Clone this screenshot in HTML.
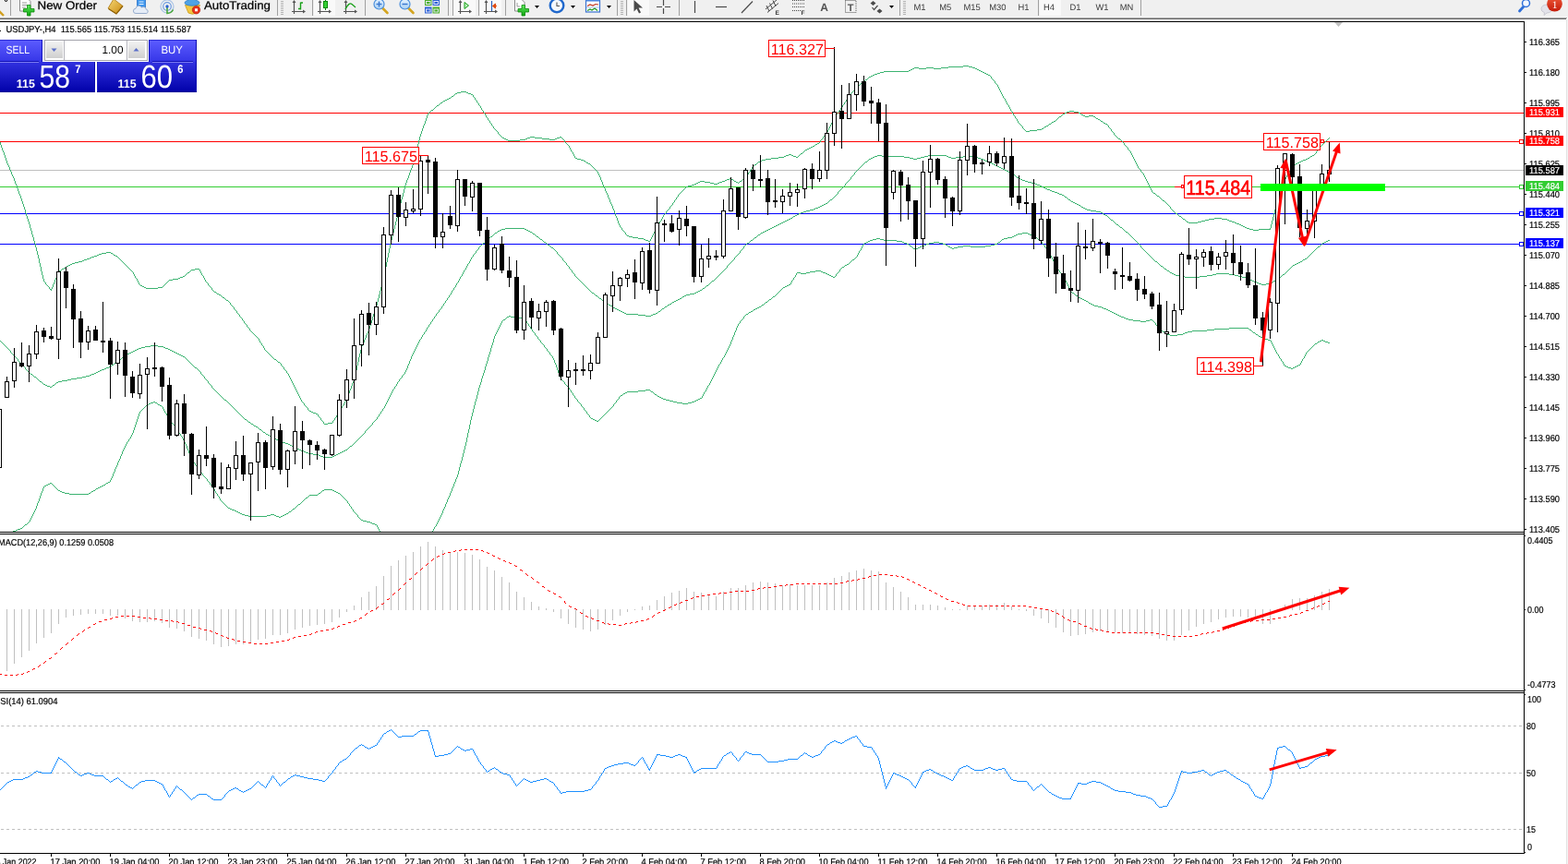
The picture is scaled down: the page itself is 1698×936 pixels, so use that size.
<!DOCTYPE html>
<html lang="en">
<head>
<meta charset="utf-8">
<title>USDJPY-,H4</title>
<style>
html,body{margin:0;padding:0;background:#fff}
body{width:1698px;height:936px;overflow:hidden;font-family:"Liberation Sans",sans-serif}
svg{display:block}
text{white-space:pre;text-rendering:geometricPrecision}
</style>
</head>
<body>
<svg width="1698" height="936" viewBox="0 0 1698 936">
<rect width="1698" height="936" fill="#fff"/>
<g id="toolbar" font-family='"Liberation Sans", sans-serif'>
<defs><linearGradient id="gPlus" x1="0" y1="0" x2="0" y2="1"><stop offset="0" stop-color="#5fe85f"/><stop offset="1" stop-color="#0ea40e"/></linearGradient><linearGradient id="gBadge" x1="0" y1="0" x2="0" y2="1"><stop offset="0" stop-color="#ef5a3a"/><stop offset="1" stop-color="#c41c0a"/></linearGradient><linearGradient id="gBook" x1="0" y1="0" x2="1" y2="1"><stop offset="0" stop-color="#f6d878"/><stop offset="1" stop-color="#c98a10"/></linearGradient><linearGradient id="gLens" x1="0" y1="0" x2="0" y2="1"><stop offset="0" stop-color="#e8f4ff"/><stop offset="1" stop-color="#a8d0f4"/></linearGradient></defs>
<rect x="0" y="0" width="1698" height="19" fill="#f0f0f0"/>
<g shape-rendering="crispEdges">
<rect x="0" y="18" width="1698" height="1" fill="#f7f7f7"/>
<rect x="0" y="19" width="1697" height="1" fill="#a6a6a6"/>
<rect x="0" y="20" width="1696" height="1" fill="#6a6a6a"/>
<rect x="340" y="0" width="23" height="17" fill="#f9f9f9"/>
<rect x="491" y="0" width="24" height="17" fill="#f9f9f9"/>
<rect x="520" y="0" width="23" height="17" fill="#f9f9f9"/>
<rect x="680" y="0" width="23" height="17" fill="#f9f9f9"/>
<rect x="1126" y="0" width="23" height="17" fill="#f9f9f9"/>
<rect x="11" y="0" width="1" height="17" fill="#a0a0a0"/>
<rect x="300" y="0" width="1" height="17" fill="#a0a0a0"/>
<rect x="338" y="0" width="1" height="17" fill="#a0a0a0"/>
<rect x="395" y="0" width="1" height="17" fill="#a0a0a0"/>
<rect x="485" y="0" width="1" height="17" fill="#a0a0a0"/>
<rect x="490" y="0" width="1" height="17" fill="#a0a0a0"/>
<rect x="518" y="0" width="1" height="17" fill="#a0a0a0"/>
<rect x="547" y="0" width="1" height="17" fill="#a0a0a0"/>
<rect x="668" y="0" width="1" height="17" fill="#a0a0a0"/>
<rect x="678" y="0" width="1" height="17" fill="#a0a0a0"/>
<rect x="735" y="0" width="1" height="17" fill="#a0a0a0"/>
<rect x="974" y="0" width="1" height="17" fill="#a0a0a0"/>
<rect x="1124" y="0" width="1" height="17" fill="#a0a0a0"/>
<rect x="1235" y="0" width="1" height="17" fill="#a0a0a0"/>
<rect x="304" y="1" width="3" height="1" fill="#b4b4b4"/>
<rect x="304" y="3" width="3" height="1" fill="#b4b4b4"/>
<rect x="304" y="5" width="3" height="1" fill="#b4b4b4"/>
<rect x="304" y="7" width="3" height="1" fill="#b4b4b4"/>
<rect x="304" y="9" width="3" height="1" fill="#b4b4b4"/>
<rect x="304" y="11" width="3" height="1" fill="#b4b4b4"/>
<rect x="304" y="13" width="3" height="1" fill="#b4b4b4"/>
<rect x="304" y="15" width="3" height="1" fill="#b4b4b4"/>
<rect x="672" y="1" width="3" height="1" fill="#b4b4b4"/>
<rect x="672" y="3" width="3" height="1" fill="#b4b4b4"/>
<rect x="672" y="5" width="3" height="1" fill="#b4b4b4"/>
<rect x="672" y="7" width="3" height="1" fill="#b4b4b4"/>
<rect x="672" y="9" width="3" height="1" fill="#b4b4b4"/>
<rect x="672" y="11" width="3" height="1" fill="#b4b4b4"/>
<rect x="672" y="13" width="3" height="1" fill="#b4b4b4"/>
<rect x="672" y="15" width="3" height="1" fill="#b4b4b4"/>
<rect x="978" y="1" width="3" height="1" fill="#b4b4b4"/>
<rect x="978" y="3" width="3" height="1" fill="#b4b4b4"/>
<rect x="978" y="5" width="3" height="1" fill="#b4b4b4"/>
<rect x="978" y="7" width="3" height="1" fill="#b4b4b4"/>
<rect x="978" y="9" width="3" height="1" fill="#b4b4b4"/>
<rect x="978" y="11" width="3" height="1" fill="#b4b4b4"/>
<rect x="978" y="13" width="3" height="1" fill="#b4b4b4"/>
<rect x="978" y="15" width="3" height="1" fill="#b4b4b4"/>
</g>
<path d="M-1 12L4 17" stroke="#d1a021" stroke-width="2.4" fill="none"/>
<path d="M5 0l1.5 2l1.5-2" stroke="#000" stroke-width="1" fill="none"/>
<path d="M21.5 -2h8l3.5 3.5v10.5h-11.5z" fill="#fdfdfd" stroke="#8a8a8a" stroke-width="1"/>
<path d="M24 3h5M24 5.5h6M24 8h4" stroke="#9a9a9a" stroke-width="1"/>
<path d="M29.5 5.5h3.5v4h4v3.5h-4v4h-3.5v-4h-4v-3.5h4z" fill="url(#gPlus)" stroke="#0b8a0b" stroke-width="0.8"/>
<text x="40.5" y="9.8" font-size="12.5" fill="#000" stroke="#000" stroke-width="0.25" textLength="64.5" lengthAdjust="spacingAndGlyphs">New Order</text>
<path d="M123 -1l10 7.5l-7 8.5l-9-6z" fill="url(#gBook)" stroke="#b07a12" stroke-width="0.8"/>
<path d="M117.5 9.5l8.5 5.5l7-8.5" fill="none" stroke="#8f6208" stroke-width="1.2"/>
<rect x="148.5" y="-1" width="9" height="9" fill="#3f97ee" stroke="#2a70c8" stroke-width="0.8"/>
<path d="M150.5 2h5M150.5 4.5h5" stroke="#e8f3ff" stroke-width="1"/>
<path d="M147 14.5a2.6 2.6 0 0 1 0-5.2a3.4 3.4 0 0 1 6.4-1.2a3 3 0 0 1 4.8 2a2.3 2.3 0 0 1 0.6 4.4z" fill="#e6edf7" stroke="#8ea6c8" stroke-width="0.9"/>
<circle cx="181" cy="7" r="7" fill="none" stroke="#a9c3e6" stroke-width="1.2"/>
<circle cx="181" cy="7" r="4.3" fill="none" stroke="#6d9be0" stroke-width="1.2"/>
<path d="M181 7v7.5a7.5 7.5 0 0 0 6.5-4" fill="none" stroke="#4aa83a" stroke-width="1.6"/>
<circle cx="181" cy="7" r="1.7" fill="#2a62d0"/>
<path d="M200.5 5.5h16l-3.5 8.5q-4.5 2.5-9 0z" fill="#f3c842" stroke="#c99a18" stroke-width="0.8"/>
<ellipse cx="208" cy="3" rx="8" ry="3.2" fill="#4fa3e6" stroke="#2d7cc4" stroke-width="0.8"/>
<path d="M205 -2h6l1 4h-8z" fill="#4fa3e6"/>
<circle cx="212.5" cy="10.8" r="4.2" fill="#e8341c" stroke="#b8200c" stroke-width="0.7"/>
<rect x="211" y="9.3" width="3" height="3" fill="#fff"/>
<text x="221" y="9.8" font-size="12.5" fill="#000" stroke="#000" stroke-width="0.25" textLength="72" lengthAdjust="spacingAndGlyphs">AutoTrading</text>
<path d="M318.5 1v14M316 12.5h14" stroke="#555" stroke-width="1.2" fill="none"/><path d="M318.5 0l-2 3h4zM331 12.5l-3-2v4z" fill="#555"/>
<path d="M325.5 2.5v8M325.5 3h2.5M323 9.5h2.5" stroke="#18a018" stroke-width="1.4" fill="none"/>
<path d="M346.5 1v14M344 12.5h14" stroke="#555" stroke-width="1.2" fill="none"/><path d="M346.5 0l-2 3h4zM359 12.5l-3-2v4z" fill="#555"/>
<path d="M352.5 0v11" stroke="#0b8a0b" stroke-width="1"/>
<rect x="350.5" y="1.5" width="4" height="7" fill="#35d035" stroke="#0b8a0b" stroke-width="1"/>
<path d="M374.5 1v14M372 12.5h14" stroke="#555" stroke-width="1.2" fill="none"/><path d="M374.5 0l-2 3h4zM387 12.5l-3-2v4z" fill="#555"/>
<path d="M374 10q4-8 7-5.5t4 3.5" stroke="#18a018" stroke-width="1.3" fill="none"/>
<path d="M414 8.5l5.5 5.5" stroke="#d4a521" stroke-width="2.6" stroke-linecap="round"/>
<circle cx="410.5" cy="4.5" r="5.5" fill="url(#gLens)" stroke="#4b8fdc" stroke-width="1.2"/>
<path d="M407.5 4.5h6" stroke="#3a78d0" stroke-width="1.5"/>
<path d="M410.5 1.5v6" stroke="#3a78d0" stroke-width="1.5"/>
<path d="M442 8.5l5.5 5.5" stroke="#d4a521" stroke-width="2.6" stroke-linecap="round"/>
<circle cx="438.5" cy="4.5" r="5.5" fill="url(#gLens)" stroke="#4b8fdc" stroke-width="1.2"/>
<path d="M435.5 4.5h6" stroke="#3a78d0" stroke-width="1.5"/>
<rect x="460" y="-1" width="7.5" height="7" fill="#4caf2a"/>
<rect x="461.5" y="1.5" width="4.5" height="3" fill="none" stroke="#eef" stroke-width="0.9"/>
<rect x="468.5" y="-1" width="7.5" height="7" fill="#2f63d4"/>
<rect x="470" y="1.5" width="4.5" height="3" fill="none" stroke="#eef" stroke-width="0.9"/>
<rect x="460" y="7.5" width="7.5" height="7" fill="#2f63d4"/>
<rect x="461.5" y="10" width="4.5" height="3" fill="none" stroke="#eef" stroke-width="0.9"/>
<rect x="468.5" y="7.5" width="7.5" height="7" fill="#4caf2a"/>
<rect x="470" y="10" width="4.5" height="3" fill="none" stroke="#eef" stroke-width="0.9"/>
<path d="M498.5 1v14M496 12.5h14" stroke="#555" stroke-width="1.2" fill="none"/><path d="M498.5 0l-2 3h4zM511 12.5l-3-2v4z" fill="#555"/>
<path d="M503 2.5l4.5 3.5l-4.5 3.5z" fill="#b8f0b8" stroke="#18a018" stroke-width="1"/>
<path d="M526.5 1v14M524 12.5h14" stroke="#555" stroke-width="1.2" fill="none"/><path d="M526.5 0l-2 3h4zM539 12.5l-3-2v4z" fill="#555"/>
<path d="M532.5 1v11" stroke="#2a5fb8" stroke-width="1.2"/>
<path d="M533.5 6.5h4.5M533.5 6.5l3-2.5v5z" stroke="#e04a10" stroke-width="1" fill="#e04a10"/>
<path d="M557.5 -1h7l3.5 3.5v9.5h-10.5z" fill="#fdfdfd" stroke="#8a8a8a" stroke-width="1"/>
<path d="M560 3v4h3" stroke="#9a9a9a" stroke-width="1" fill="none"/>
<path d="M565 5.5h3.5v4h4v3.5h-4v4h-3.5v-4h-4v-3.5h4z" fill="url(#gPlus)" stroke="#0b8a0b" stroke-width="0.8"/>
<path d="M579 6h5l-2.5 3z" fill="#000"/>
<path d="M618 6h5l-2.5 3z" fill="#000"/>
<path d="M657 6h5l-2.5 3z" fill="#000"/>
<path d="M963 6h5l-2.5 3z" fill="#000"/>
<circle cx="603" cy="6" r="7.3" fill="#f4f8fd" stroke="#2068cc" stroke-width="2.4"/>
<path d="M603 2.5v4h3" stroke="#555" stroke-width="1.1" fill="none"/>
<rect x="634.5" y="-1" width="15" height="14" fill="#fdfdff" stroke="#3a72d0" stroke-width="1.2"/>
<rect x="634.5" y="-1" width="15" height="2.5" fill="#4a86e0"/>
<path d="M636 6.5l3-1.5l3 1l3-1.5l3 0.5" stroke="#c0341c" stroke-width="1.2" fill="none"/>
<path d="M636 11.5l3-1.5l2 1l3-2l3 2.5" stroke="#1e9a1e" stroke-width="1.2" fill="none"/>
<path d="M635 8h14" stroke="#9ab4e0" stroke-width="0.8"/>
<path d="M686.5 0v12.5l3-3l2.5 5l2-1l-2.5-5h4.5z" fill="#4a4a4a"/>
<path d="M718.5 0v6M718.5 9v6M711 7.5h6M720 7.5h6" stroke="#4a4a4a" stroke-width="1.2"/>
<path d="M752.5 1v13" stroke="#4a4a4a" stroke-width="1.2"/>
<path d="M775 7.5h12" stroke="#4a4a4a" stroke-width="1.2"/>
<path d="M803 14l12-12.5" stroke="#4a4a4a" stroke-width="1.2"/>
<path d="M829 10l12-10M831 13.5l12-10M830 6l3 6M833.5 3.5l3 6M837 0.5l3 6" stroke="#4a4a4a" stroke-width="1" fill="none"/>
<text x="839.5" y="16" font-size="6.5" font-weight="bold" fill="#333">E</text>
<path d="M858 0.5h13M858 4h13M858 7.5h13M858 11.5h9" stroke="#4a4a4a" stroke-width="1" stroke-dasharray="1 1"/>
<text x="867.5" y="16" font-size="6.5" font-weight="bold" fill="#333">F</text>
<text x="892.7" y="12" font-size="12" font-weight="bold" fill="#555" text-anchor="middle">A</text>
<rect x="915.5" y="0.5" width="11.5" height="13" fill="none" stroke="#555" stroke-width="1" stroke-dasharray="1 1"/>
<text x="921.2" y="11.5" font-size="11" font-weight="bold" fill="#555" text-anchor="middle">T</text>
<path d="M945.5 1l3 2.5l-3 2.5l-3-2.5zM952.5 9.5l3 2.5l-3 2.5l-3-2.5z" fill="#4a4a4a"/>
<path d="M944.5 8l2 2.5l4-4.5" stroke="#4a4a4a" stroke-width="1.2" fill="none"/>
<text x="996" y="11" font-size="9.4" fill="#3a3a3a" text-anchor="middle">M1</text>
<text x="1023.7" y="11" font-size="9.4" fill="#3a3a3a" text-anchor="middle">M5</text>
<text x="1052.5" y="11" font-size="9.4" fill="#3a3a3a" text-anchor="middle">M15</text>
<text x="1080.4" y="11" font-size="9.4" fill="#3a3a3a" text-anchor="middle">M30</text>
<text x="1108.5" y="11" font-size="9.4" fill="#3a3a3a" text-anchor="middle">H1</text>
<text x="1136" y="11" font-size="9.4" fill="#3a3a3a" text-anchor="middle">H4</text>
<text x="1164.6" y="11" font-size="9.4" fill="#3a3a3a" text-anchor="middle">D1</text>
<text x="1193.5" y="11" font-size="9.4" fill="#3a3a3a" text-anchor="middle">W1</text>
<text x="1220" y="11" font-size="9.4" fill="#3a3a3a" text-anchor="middle">MN</text>
<path d="M1650 7l-4.5 5" stroke="#2f6fd8" stroke-width="2.8" stroke-linecap="round"/>
<circle cx="1652.5" cy="3.5" r="4" fill="#f4f8ff" stroke="#2f6fd8" stroke-width="1.5"/>
<path d="M1669 9.5a6 4.5 0 1 1 6 4.5l-3 2.5l0.5-2.8a6 4.5 0 0 1-3.5-4.2z" fill="#e3e3ea" stroke="#c2c2cc" stroke-width="0.8"/>
<circle cx="1683.5" cy="4.3" r="8.3" fill="url(#gBadge)"/>
<text x="1683.5" y="8.5" font-size="11.5" fill="#fff" text-anchor="middle" font-family='"Liberation Serif", serif'>1</text>
</g>
<g shape-rendering="crispEdges">
<rect x="0" y="23" width="1651" height="1" fill="#000"/>
<rect x="1650" y="23" width="1" height="902" fill="#000"/>
<rect x="0" y="576" width="1651" height="1" fill="#000"/>
<rect x="0" y="578" width="1651" height="1" fill="#000"/>
<rect x="0" y="748" width="1651" height="1" fill="#000"/>
<rect x="0" y="750" width="1651" height="1" fill="#000"/>
<rect x="0" y="924" width="1651" height="1" fill="#000"/>
<rect x="1696" y="21" width="1" height="915" fill="#e3e3e3"/>
<rect x="1697" y="21" width="1" height="915" fill="#f4f4f4"/>
<rect x="0" y="122" width="1650" height="1" fill="#ff0000"/>
<rect x="0" y="153" width="1650" height="1" fill="#ff0000"/>
<rect x="0" y="184" width="1650" height="1" fill="#c0c0c0"/>
<rect x="0" y="202" width="1650" height="1" fill="#32cd32"/>
<rect x="0" y="231" width="1650" height="1" fill="#0000ff"/>
<rect x="0" y="264" width="1650" height="1" fill="#0000ff"/>
</g>
<path d="M1445 24h9l-4.5 5z" fill="#c0c0c0"/>
<clipPath id="cm"><rect x="0" y="24" width="1650" height="552"/></clipPath>
<path shape-rendering="crispEdges" fill="#3cb371" d="M1043 71h6v1h-6zM1027 72h16v1h-16zM1049 72h4v1h-4zM990 73h5v1h-5zM1003 73h8v1h-8zM1019 73h8v1h-8zM1053 73h3v1h-3zM988 74h2v1h-2zM995 74h8v1h-8zM1011 74h8v1h-8zM1056 74h2v1h-2zM986 75h2v1h-2zM1058 75h2v1h-2zM984 76h2v1h-2zM1060 76h2v1h-2zM957 77h27v1h-27zM1062 77h2v1h-2zM953 78h4v1h-4zM1064 78h2v1h-2zM950 79h3v1h-3zM1066 79h2v1h-2zM947 80h3v1h-3zM1068 80h2v1h-2zM945 81h2v1h-2zM1070 81h2v1h-2zM943 82h2v1h-2zM1072 82h1v1h-1zM941 83h2v1h-2zM1073 83h1v2h-1zM940 84h1v1h-1zM939 85h1v1h-1zM1074 85h1v1h-1zM937 86h2v1h-2zM1075 86h1v1h-1zM936 87h1v1h-1zM1076 87h1v1h-1zM935 88h1v1h-1zM1077 88h1v2h-1zM933 89h2v1h-2zM932 90h1v1h-1zM1078 90h1v1h-1zM931 91h1v1h-1zM1079 91h1v1h-1zM929 92h2v1h-2zM1080 92h1v2h-1zM928 93h1v1h-1zM927 94h1v1h-1zM1081 94h1v2h-1zM926 95h1v1h-1zM925 96h1v2h-1zM1082 96h1v2h-1zM924 98h1v1h-1zM1083 98h1v2h-1zM499 99h6v1h-6zM923 99h1v1h-1zM495 100h4v1h-4zM505 100h2v1h-2zM922 100h1v1h-1zM1084 100h1v2h-1zM493 101h2v1h-2zM507 101h3v1h-3zM921 101h1v2h-1zM492 102h1v1h-1zM510 102h2v1h-2zM1085 102h1v2h-1zM491 103h1v1h-1zM512 103h1v2h-1zM920 103h1v1h-1zM489 104h2v1h-2zM919 104h1v1h-1zM1086 104h1v2h-1zM488 105h1v1h-1zM513 105h1v1h-1zM918 105h1v2h-1zM486 106h2v1h-2zM514 106h1v2h-1zM1087 106h1v1h-1zM484 107h2v1h-2zM917 107h1v1h-1zM1088 107h1v2h-1zM482 108h2v1h-2zM515 108h1v1h-1zM916 108h1v2h-1zM480 109h2v1h-2zM516 109h1v2h-1zM1089 109h1v2h-1zM479 110h1v1h-1zM915 110h1v1h-1zM477 111h2v1h-2zM517 111h1v1h-1zM914 111h1v2h-1zM1090 111h1v2h-1zM476 112h1v1h-1zM518 112h1v2h-1zM475 113h1v1h-1zM913 113h1v1h-1zM1091 113h1v1h-1zM473 114h2v1h-2zM519 114h1v1h-1zM912 114h1v2h-1zM1092 114h1v2h-1zM472 115h1v1h-1zM520 115h1v2h-1zM471 116h1v1h-1zM911 116h1v1h-1zM1093 116h1v2h-1zM470 117h1v1h-1zM521 117h1v2h-1zM910 117h1v2h-1zM469 118h1v1h-1zM1094 118h1v2h-1zM467 119h2v1h-2zM522 119h1v1h-1zM909 119h1v1h-1zM466 120h1v1h-1zM523 120h1v2h-1zM908 120h1v1h-1zM1095 120h1v1h-1zM1158 120h5v1h-5zM465 121h1v1h-1zM907 121h1v2h-1zM1096 121h1v2h-1zM1155 121h3v1h-3zM1163 121h5v1h-5zM464 122h1v1h-1zM524 122h1v1h-1zM1153 122h2v1h-2zM1168 122h2v1h-2zM463 123h1v2h-1zM525 123h1v2h-1zM906 123h1v1h-1zM1097 123h1v2h-1zM1151 123h2v1h-2zM1170 123h1v1h-1zM905 124h1v1h-1zM1150 124h1v1h-1zM1171 124h2v1h-2zM462 125h1v3h-1zM526 125h1v2h-1zM904 125h1v2h-1zM1098 125h1v1h-1zM1149 125h1v1h-1zM1173 125h2v1h-2zM1179 125h5v1h-5zM1099 126h1v2h-1zM1147 126h2v1h-2zM1175 126h4v1h-4zM1184 126h2v1h-2zM527 127h1v1h-1zM903 127h1v2h-1zM1146 127h1v1h-1zM1186 127h1v1h-1zM461 128h1v3h-1zM528 128h1v2h-1zM1100 128h1v1h-1zM1145 128h1v1h-1zM1187 128h2v1h-2zM902 129h1v2h-1zM1101 129h1v2h-1zM1144 129h1v1h-1zM1189 129h2v1h-2zM529 130h1v1h-1zM1143 130h1v1h-1zM1191 130h1v1h-1zM460 131h1v3h-1zM530 131h1v2h-1zM901 131h1v2h-1zM1102 131h1v2h-1zM1141 131h2v1h-2zM1192 131h2v1h-2zM1139 132h2v1h-2zM1194 132h1v1h-1zM531 133h1v1h-1zM900 133h1v2h-1zM1103 133h1v1h-1zM1138 133h1v1h-1zM1195 133h2v1h-2zM459 134h1v2h-1zM532 134h1v2h-1zM1104 134h1v1h-1zM1136 134h2v1h-2zM1197 134h2v1h-2zM899 135h1v2h-1zM1105 135h1v1h-1zM1135 135h1v1h-1zM1199 135h1v1h-1zM458 136h1v3h-1zM533 136h1v1h-1zM1106 136h1v1h-1zM1133 136h2v1h-2zM1200 136h1v2h-1zM534 137h1v2h-1zM898 137h1v2h-1zM1107 137h1v2h-1zM1131 137h2v1h-2zM1130 138h1v1h-1zM1201 138h1v1h-1zM457 139h1v3h-1zM535 139h1v1h-1zM897 139h1v2h-1zM1108 139h1v1h-1zM1128 139h2v1h-2zM1202 139h1v1h-1zM536 140h1v1h-1zM1109 140h1v1h-1zM1123 140h5v1h-5zM1203 140h1v2h-1zM537 141h1v1h-1zM896 141h1v2h-1zM1110 141h1v1h-1zM1115 141h8v1h-8zM456 142h1v3h-1zM538 142h1v1h-1zM1111 142h4v1h-4zM1204 142h1v1h-1zM539 143h1v2h-1zM895 143h1v1h-1zM1205 143h1v1h-1zM894 144h1v2h-1zM1206 144h1v2h-1zM455 145h1v3h-1zM540 145h1v1h-1zM541 146h1v1h-1zM893 146h1v1h-1zM1207 146h1v1h-1zM542 147h1v1h-1zM892 147h1v1h-1zM1208 147h1v1h-1zM454 148h1v4h-1zM543 148h1v1h-1zM574 148h5v1h-5zM606 148h2v1h-2zM891 148h1v2h-1zM1209 148h1v1h-1zM544 149h2v1h-2zM571 149h3v1h-3zM579 149h8v1h-8zM603 149h3v1h-3zM608 149h1v1h-1zM1210 149h1v1h-1zM1439 149h1v1h-1zM546 150h2v1h-2zM569 150h2v1h-2zM587 150h8v1h-8zM601 150h2v1h-2zM609 150h1v1h-1zM890 150h1v1h-1zM1211 150h2v1h-2zM1438 150h1v1h-1zM548 151h2v1h-2zM563 151h6v1h-6zM595 151h6v1h-6zM610 151h1v1h-1zM889 151h1v1h-1zM1213 151h1v1h-1zM1437 151h1v1h-1zM453 152h1v4h-1zM550 152h13v1h-13zM611 152h1v2h-1zM888 152h1v2h-1zM1214 152h1v1h-1zM1436 152h1v1h-1zM1215 153h1v1h-1zM1435 153h1v1h-1zM0 154h1v3h-1zM612 154h1v1h-1zM887 154h1v1h-1zM1216 154h1v1h-1zM1434 154h1v1h-1zM613 155h1v1h-1zM885 155h2v1h-2zM1217 155h1v2h-1zM1433 155h1v1h-1zM452 156h1v4h-1zM614 156h1v1h-1zM883 156h2v1h-2zM1432 156h1v1h-1zM1 157h1v3h-1zM615 157h1v1h-1zM882 157h1v1h-1zM1218 157h1v1h-1zM1431 157h1v1h-1zM616 158h1v2h-1zM880 158h2v1h-2zM1219 158h1v1h-1zM1430 158h1v1h-1zM878 159h2v1h-2zM1220 159h1v1h-1zM1429 159h1v2h-1zM2 160h1v3h-1zM451 160h1v4h-1zM617 160h1v2h-1zM876 160h2v1h-2zM1221 160h1v2h-1zM874 161h2v1h-2zM1428 161h1v1h-1zM618 162h1v2h-1zM872 162h2v1h-2zM1222 162h1v1h-1zM1427 162h1v1h-1zM3 163h1v2h-1zM871 163h1v1h-1zM1223 163h1v1h-1zM1426 163h1v1h-1zM450 164h1v4h-1zM619 164h1v1h-1zM870 164h1v1h-1zM1224 164h1v2h-1zM1425 164h1v2h-1zM4 165h1v3h-1zM620 165h1v2h-1zM869 165h1v1h-1zM867 166h2v1h-2zM1225 166h1v2h-1zM1424 166h1v1h-1zM621 167h1v2h-1zM854 167h3v1h-3zM866 167h1v1h-1zM1423 167h1v1h-1zM5 168h1v3h-1zM449 168h1v4h-1zM851 168h3v1h-3zM857 168h2v1h-2zM865 168h1v1h-1zM1226 168h1v2h-1zM1421 168h2v1h-2zM622 169h1v2h-1zM849 169h2v1h-2zM859 169h3v1h-3zM864 169h1v1h-1zM1419 169h2v1h-2zM843 170h6v1h-6zM862 170h2v1h-2zM1227 170h1v2h-1zM1418 170h1v1h-1zM6 171h1v3h-1zM623 171h2v1h-2zM835 171h8v1h-8zM1416 171h2v1h-2zM448 172h1v4h-1zM625 172h4v1h-4zM829 172h6v1h-6zM1228 172h1v2h-1zM1414 172h2v1h-2zM629 173h3v1h-3zM825 173h4v1h-4zM1411 173h3v1h-3zM7 174h1v3h-1zM632 174h2v1h-2zM823 174h2v1h-2zM1229 174h1v2h-1zM1409 174h2v1h-2zM634 175h1v1h-1zM821 175h2v1h-2zM1407 175h2v1h-2zM447 176h1v3h-1zM635 176h2v1h-2zM820 176h1v1h-1zM1230 176h1v2h-1zM1405 176h2v1h-2zM8 177h1v2h-1zM637 177h2v1h-2zM819 177h1v1h-1zM1403 177h2v1h-2zM639 178h1v1h-1zM817 178h2v1h-2zM1231 178h1v2h-1zM1402 178h1v1h-1zM9 179h1v2h-1zM446 179h1v3h-1zM640 179h1v1h-1zM816 179h1v1h-1zM1400 179h2v1h-2zM641 180h1v1h-1zM815 180h1v1h-1zM1232 180h1v2h-1zM1399 180h1v1h-1zM10 181h1v3h-1zM642 181h1v1h-1zM814 181h1v2h-1zM1398 181h1v2h-1zM445 182h1v2h-1zM643 182h1v1h-1zM1233 182h1v1h-1zM644 183h1v1h-1zM813 183h1v1h-1zM1234 183h1v1h-1zM1397 183h1v2h-1zM11 184h1v2h-1zM444 184h1v3h-1zM645 184h1v1h-1zM812 184h1v2h-1zM1235 184h1v2h-1zM646 185h1v1h-1zM1396 185h1v2h-1zM12 186h1v3h-1zM647 186h1v2h-1zM811 186h1v1h-1zM1236 186h1v1h-1zM443 187h1v3h-1zM810 187h1v2h-1zM1237 187h1v1h-1zM1395 187h1v1h-1zM648 188h1v2h-1zM1238 188h1v2h-1zM1394 188h1v2h-1zM13 189h1v2h-1zM809 189h1v1h-1zM442 190h1v3h-1zM649 190h1v2h-1zM808 190h1v2h-1zM1239 190h1v2h-1zM1393 190h1v2h-1zM14 191h1v2h-1zM650 192h1v3h-1zM807 192h1v1h-1zM1240 192h1v2h-1zM1392 192h1v2h-1zM15 193h1v3h-1zM441 193h1v2h-1zM790 193h2v1h-2zM805 193h2v1h-2zM787 194h3v1h-3zM792 194h2v1h-2zM804 194h1v1h-1zM1241 194h1v2h-1zM1391 194h1v2h-1zM440 195h1v3h-1zM651 195h1v2h-1zM785 195h2v1h-2zM794 195h1v1h-1zM803 195h1v1h-1zM16 196h1v3h-1zM758 196h5v1h-5zM782 196h3v1h-3zM795 196h2v1h-2zM801 196h2v1h-2zM1242 196h1v2h-1zM1390 196h1v3h-1zM652 197h1v3h-1zM756 197h2v1h-2zM763 197h6v1h-6zM779 197h3v1h-3zM797 197h2v1h-2zM800 197h1v1h-1zM439 198h1v3h-1zM754 198h2v1h-2zM769 198h4v1h-4zM777 198h2v1h-2zM799 198h1v1h-1zM1243 198h1v2h-1zM17 199h1v2h-1zM752 199h2v1h-2zM773 199h4v1h-4zM1389 199h1v3h-1zM653 200h1v2h-1zM749 200h3v1h-3zM1244 200h1v2h-1zM18 201h1v3h-1zM438 201h1v4h-1zM745 201h4v1h-4zM654 202h1v2h-1zM743 202h2v1h-2zM1245 202h1v2h-1zM1388 202h1v3h-1zM742 203h1v1h-1zM19 204h1v3h-1zM655 204h1v3h-1zM741 204h1v1h-1zM1246 204h1v2h-1zM437 205h1v4h-1zM740 205h1v1h-1zM1387 205h1v2h-1zM739 206h1v1h-1zM1247 206h1v2h-1zM20 207h1v3h-1zM656 207h1v2h-1zM738 207h1v1h-1zM1386 207h1v3h-1zM737 208h1v1h-1zM1248 208h1v1h-1zM436 209h1v4h-1zM657 209h1v2h-1zM736 209h1v1h-1zM1249 209h2v1h-2zM21 210h1v2h-1zM735 210h1v1h-1zM1251 210h1v1h-1zM1385 210h1v3h-1zM658 211h1v3h-1zM734 211h1v2h-1zM1252 211h1v1h-1zM22 212h1v3h-1zM1253 212h2v1h-2zM435 213h1v3h-1zM733 213h1v1h-1zM1255 213h1v1h-1zM1384 213h1v3h-1zM659 214h1v2h-1zM732 214h1v2h-1zM1256 214h1v1h-1zM23 215h1v3h-1zM1257 215h1v1h-1zM434 216h1v4h-1zM660 216h1v3h-1zM731 216h1v1h-1zM1258 216h1v1h-1zM1383 216h1v3h-1zM730 217h1v2h-1zM1259 217h2v1h-2zM24 218h1v3h-1zM1261 218h1v1h-1zM661 219h1v2h-1zM729 219h1v1h-1zM1262 219h1v1h-1zM1382 219h1v4h-1zM433 220h1v4h-1zM728 220h1v2h-1zM1263 220h1v1h-1zM25 221h1v3h-1zM662 221h1v2h-1zM1264 221h1v1h-1zM727 222h1v1h-1zM1265 222h1v1h-1zM663 223h1v3h-1zM726 223h1v1h-1zM1266 223h1v1h-1zM1381 223h1v4h-1zM26 224h1v3h-1zM432 224h1v4h-1zM725 224h1v2h-1zM1267 224h1v2h-1zM664 226h1v2h-1zM724 226h1v1h-1zM1268 226h1v1h-1zM27 227h1v4h-1zM723 227h1v1h-1zM1269 227h1v1h-1zM1380 227h1v4h-1zM431 228h1v4h-1zM665 228h1v3h-1zM722 228h1v1h-1zM1270 228h1v1h-1zM721 229h1v2h-1zM1271 229h1v1h-1zM1272 230h1v1h-1zM28 231h1v3h-1zM666 231h1v3h-1zM720 231h1v1h-1zM1273 231h2v1h-2zM1379 231h1v4h-1zM430 232h1v4h-1zM719 232h1v1h-1zM1275 232h1v1h-1zM718 233h1v2h-1zM1276 233h1v1h-1zM29 234h1v3h-1zM667 234h1v2h-1zM1277 234h2v1h-2zM717 235h1v2h-1zM1279 235h1v1h-1zM1378 235h1v4h-1zM429 236h1v4h-1zM668 236h1v3h-1zM1280 236h1v1h-1zM1315 236h8v1h-8zM30 237h1v3h-1zM716 237h1v2h-1zM1281 237h2v1h-2zM1309 237h6v1h-6zM1323 237h6v1h-6zM1283 238h1v1h-1zM1305 238h4v1h-4zM1329 238h2v1h-2zM669 239h1v3h-1zM715 239h1v1h-1zM1284 239h1v1h-1zM1301 239h4v1h-4zM1331 239h3v1h-3zM1377 239h1v4h-1zM31 240h1v3h-1zM428 240h1v4h-1zM714 240h1v2h-1zM1285 240h2v1h-2zM1297 240h4v1h-4zM1334 240h3v1h-3zM1287 241h10v1h-10zM1337 241h2v1h-2zM670 242h1v2h-1zM713 242h1v2h-1zM1339 242h3v1h-3zM32 243h1v4h-1zM1342 243h2v1h-2zM1376 243h1v4h-1zM427 244h1v4h-1zM671 244h1v2h-1zM712 244h1v2h-1zM1344 244h2v1h-2zM1346 245h2v1h-2zM672 246h1v1h-1zM711 246h1v1h-1zM1348 246h2v1h-2zM33 247h1v3h-1zM673 247h1v2h-1zM710 247h1v2h-1zM1350 247h3v1h-3zM1375 247h1v2h-1zM426 248h1v4h-1zM1353 248h4v1h-4zM1363 248h12v1h-12zM674 249h1v1h-1zM709 249h1v2h-1zM1357 249h6v1h-6zM34 250h1v4h-1zM675 250h1v1h-1zM676 251h1v1h-1zM708 251h1v2h-1zM425 252h1v4h-1zM677 252h1v2h-1zM707 253h1v2h-1zM35 254h1v3h-1zM678 254h1v1h-1zM679 255h2v1h-2zM706 255h1v2h-1zM424 256h1v4h-1zM681 256h4v1h-4zM36 257h1v4h-1zM685 257h6v1h-6zM705 257h1v2h-1zM691 258h6v1h-6zM697 259h2v1h-2zM704 259h1v2h-1zM423 260h1v4h-1zM699 260h3v1h-3zM37 261h1v3h-1zM702 261h2v1h-2zM38 264h1v4h-1zM422 264h1v5h-1zM39 268h1v4h-1zM421 269h1v5h-1zM40 272h1v4h-1zM115 273h5v1h-5zM110 274h5v1h-5zM120 274h2v1h-2zM420 274h1v5h-1zM107 275h3v1h-3zM122 275h1v1h-1zM41 276h1v4h-1zM105 276h2v1h-2zM123 276h2v1h-2zM102 277h3v1h-3zM125 277h2v1h-2zM99 278h3v1h-3zM127 278h1v1h-1zM97 279h2v1h-2zM128 279h1v1h-1zM419 279h1v5h-1zM42 280h1v5h-1zM94 280h3v1h-3zM129 280h1v1h-1zM91 281h3v1h-3zM130 281h1v1h-1zM89 282h2v1h-2zM131 282h1v1h-1zM85 283h4v1h-4zM132 283h1v1h-1zM81 284h4v1h-4zM133 284h1v1h-1zM418 284h1v5h-1zM43 285h1v4h-1zM78 285h3v1h-3zM134 285h1v1h-1zM76 286h2v1h-2zM135 286h1v1h-1zM74 287h2v1h-2zM136 287h1v1h-1zM72 288h2v1h-2zM137 288h1v1h-1zM44 289h1v5h-1zM71 289h1v1h-1zM138 289h1v1h-1zM417 289h1v5h-1zM69 290h2v1h-2zM139 290h1v1h-1zM67 291h2v1h-2zM140 291h1v1h-1zM211 291h5v1h-5zM66 292h1v1h-1zM141 292h1v1h-1zM207 292h4v1h-4zM216 292h1v2h-1zM64 293h2v1h-2zM142 293h1v1h-1zM206 293h1v1h-1zM45 294h1v4h-1zM63 294h1v2h-1zM143 294h1v1h-1zM205 294h1v1h-1zM217 294h1v2h-1zM416 294h1v5h-1zM144 295h1v2h-1zM203 295h2v1h-2zM62 296h1v2h-1zM202 296h1v1h-1zM218 296h1v2h-1zM145 297h1v2h-1zM201 297h1v1h-1zM46 298h1v4h-1zM61 298h1v3h-1zM200 298h1v1h-1zM219 298h1v1h-1zM146 299h1v2h-1zM198 299h2v1h-2zM220 299h1v2h-1zM415 299h1v4h-1zM195 300h3v1h-3zM60 301h1v2h-1zM147 301h1v1h-1zM193 301h2v1h-2zM221 301h1v2h-1zM47 302h1v3h-1zM148 302h1v2h-1zM187 302h6v1h-6zM59 303h1v3h-1zM183 303h4v1h-4zM222 303h1v2h-1zM414 303h1v4h-1zM149 304h1v2h-1zM182 304h1v1h-1zM48 305h1v1h-1zM181 305h1v1h-1zM223 305h1v1h-1zM49 306h1v2h-1zM58 306h1v2h-1zM150 306h1v2h-1zM180 306h1v1h-1zM224 306h1v1h-1zM179 307h1v1h-1zM225 307h1v2h-1zM413 307h1v4h-1zM50 308h1v1h-1zM57 308h1v3h-1zM151 308h1v1h-1zM178 308h1v1h-1zM51 309h1v1h-1zM152 309h2v1h-2zM177 309h1v1h-1zM226 309h1v1h-1zM52 310h1v1h-1zM154 310h2v1h-2zM176 310h1v1h-1zM227 310h1v1h-1zM53 311h1v2h-1zM56 311h1v2h-1zM156 311h2v1h-2zM171 311h5v1h-5zM228 311h1v1h-1zM412 311h1v4h-1zM158 312h13v1h-13zM229 312h1v2h-1zM54 313h2v1h-2zM55 314h1v1h-1zM230 314h1v1h-1zM231 315h1v1h-1zM411 315h1v4h-1zM232 316h2v1h-2zM234 317h1v1h-1zM235 318h2v1h-2zM237 319h2v1h-2zM410 319h1v4h-1zM239 320h1v1h-1zM240 321h1v1h-1zM241 322h2v1h-2zM243 323h1v1h-1zM409 323h1v4h-1zM244 324h1v1h-1zM245 325h2v1h-2zM247 326h1v1h-1zM248 327h1v1h-1zM408 327h1v4h-1zM249 328h1v2h-1zM250 330h1v1h-1zM251 331h1v1h-1zM407 331h1v3h-1zM252 332h1v1h-1zM253 333h1v2h-1zM406 334h1v3h-1zM254 335h1v1h-1zM255 336h1v1h-1zM256 337h1v2h-1zM405 337h1v3h-1zM257 339h1v1h-1zM258 340h1v1h-1zM404 340h1v3h-1zM259 341h1v2h-1zM260 343h1v1h-1zM403 343h1v4h-1zM261 344h1v1h-1zM262 345h1v2h-1zM263 347h1v1h-1zM402 347h1v3h-1zM264 348h1v2h-1zM265 350h1v1h-1zM401 350h1v3h-1zM266 351h1v1h-1zM267 352h1v2h-1zM400 353h1v3h-1zM268 354h1v1h-1zM269 355h1v1h-1zM270 356h1v2h-1zM399 356h1v3h-1zM271 358h1v1h-1zM272 359h1v1h-1zM398 359h1v2h-1zM273 360h1v1h-1zM274 361h1v1h-1zM397 361h1v2h-1zM275 362h1v1h-1zM276 363h1v1h-1zM396 363h1v3h-1zM277 364h1v1h-1zM278 365h1v1h-1zM279 366h1v1h-1zM395 366h1v2h-1zM280 367h1v2h-1zM394 368h1v3h-1zM281 369h1v2h-1zM282 371h1v1h-1zM393 371h1v2h-1zM283 372h1v2h-1zM392 373h1v2h-1zM284 374h1v1h-1zM285 375h1v2h-1zM391 375h1v4h-1zM286 377h1v2h-1zM287 379h1v1h-1zM390 379h1v4h-1zM288 380h1v1h-1zM289 381h1v1h-1zM290 382h1v1h-1zM291 383h1v1h-1zM389 383h1v4h-1zM292 384h1v1h-1zM293 385h1v1h-1zM294 386h1v1h-1zM295 387h1v1h-1zM388 387h1v5h-1zM296 388h1v1h-1zM297 389h2v1h-2zM299 390h1v1h-1zM300 391h1v1h-1zM301 392h2v1h-2zM387 392h1v4h-1zM303 393h1v1h-1zM304 394h1v2h-1zM305 396h1v1h-1zM386 396h1v5h-1zM306 397h1v1h-1zM307 398h1v2h-1zM308 400h1v1h-1zM309 401h1v1h-1zM385 401h1v4h-1zM310 402h1v2h-1zM311 404h1v1h-1zM312 405h1v2h-1zM384 405h1v4h-1zM313 407h1v2h-1zM314 409h1v2h-1zM383 409h1v4h-1zM315 411h1v2h-1zM316 413h1v2h-1zM382 413h1v2h-1zM317 415h1v2h-1zM381 415h1v3h-1zM318 417h1v2h-1zM380 418h1v3h-1zM319 419h1v2h-1zM320 421h1v2h-1zM379 421h1v2h-1zM321 423h1v2h-1zM378 423h1v3h-1zM322 425h1v2h-1zM377 426h1v3h-1zM323 427h1v2h-1zM324 429h1v2h-1zM376 429h1v2h-1zM325 431h1v2h-1zM375 431h1v2h-1zM326 433h1v2h-1zM374 433h1v2h-1zM327 435h1v1h-1zM373 435h1v2h-1zM328 436h1v1h-1zM329 437h1v2h-1zM372 437h1v2h-1zM330 439h1v1h-1zM371 439h1v1h-1zM331 440h1v1h-1zM370 440h1v2h-1zM332 441h1v1h-1zM333 442h1v2h-1zM369 442h1v2h-1zM334 444h1v1h-1zM368 444h1v2h-1zM335 445h2v1h-2zM337 446h2v1h-2zM367 446h1v1h-1zM339 447h3v1h-3zM366 447h1v2h-1zM342 448h2v1h-2zM344 449h1v2h-1zM365 449h1v1h-1zM364 450h1v2h-1zM345 451h1v1h-1zM346 452h1v1h-1zM363 452h1v1h-1zM347 453h1v2h-1zM362 453h1v2h-1zM348 455h1v1h-1zM361 455h1v1h-1zM349 456h1v1h-1zM360 456h1v2h-1zM350 457h1v2h-1zM355 458h5v1h-5zM351 459h4v1h-4z"/>
<path shape-rendering="crispEdges" fill="#3cb371" d="M950 168h5v1h-5zM1005 168h20v1h-20zM947 169h3v1h-3zM955 169h24v1h-24zM1001 169h4v1h-4zM1025 169h2v1h-2zM1043 169h14v1h-14zM945 170h2v1h-2zM979 170h6v1h-6zM997 170h4v1h-4zM1027 170h3v1h-3zM1035 170h8v1h-8zM1057 170h2v1h-2zM943 171h2v1h-2zM985 171h4v1h-4zM993 171h4v1h-4zM1030 171h5v1h-5zM1059 171h3v1h-3zM941 172h2v1h-2zM989 172h4v1h-4zM1062 172h3v1h-3zM940 173h1v1h-1zM1065 173h2v1h-2zM939 174h1v1h-1zM1067 174h3v1h-3zM937 175h2v1h-2zM1070 175h2v1h-2zM936 176h1v1h-1zM1072 176h2v1h-2zM935 177h1v1h-1zM1074 177h2v1h-2zM934 178h1v1h-1zM1076 178h2v1h-2zM933 179h1v1h-1zM1078 179h2v1h-2zM932 180h1v1h-1zM1080 180h2v1h-2zM931 181h1v1h-1zM1082 181h2v1h-2zM930 182h1v1h-1zM1084 182h2v1h-2zM929 183h1v1h-1zM1086 183h2v1h-2zM928 184h1v1h-1zM1088 184h2v1h-2zM927 185h1v1h-1zM1090 185h2v1h-2zM926 186h1v1h-1zM1092 186h2v1h-2zM925 187h1v2h-1zM1094 187h2v1h-2zM1096 188h1v1h-1zM924 189h1v1h-1zM1097 189h2v1h-2zM923 190h1v1h-1zM1099 190h1v1h-1zM922 191h1v1h-1zM1100 191h1v1h-1zM921 192h1v2h-1zM1101 192h2v1h-2zM1103 193h2v1h-2zM920 194h1v1h-1zM1105 194h2v1h-2zM919 195h1v1h-1zM1107 195h3v1h-3zM918 196h1v1h-1zM1110 196h3v1h-3zM917 197h1v1h-1zM1113 197h4v1h-4zM916 198h1v1h-1zM1117 198h4v1h-4zM915 199h1v2h-1zM1121 199h2v1h-2zM1123 200h3v1h-3zM914 201h1v1h-1zM1126 201h2v1h-2zM913 202h1v1h-1zM1128 202h2v1h-2zM912 203h1v1h-1zM1130 203h2v1h-2zM911 204h1v1h-1zM1132 204h2v1h-2zM910 205h1v1h-1zM1134 205h3v1h-3zM909 206h1v1h-1zM1137 206h2v1h-2zM908 207h1v1h-1zM1139 207h3v1h-3zM907 208h1v2h-1zM1142 208h3v1h-3zM1145 209h2v1h-2zM906 210h1v1h-1zM1147 210h3v1h-3zM905 211h1v1h-1zM1150 211h2v1h-2zM904 212h1v1h-1zM1152 212h1v1h-1zM903 213h1v1h-1zM1153 213h2v1h-2zM902 214h1v1h-1zM1155 214h1v1h-1zM901 215h1v1h-1zM1156 215h1v1h-1zM899 216h2v1h-2zM1157 216h2v1h-2zM898 217h1v1h-1zM1159 217h1v1h-1zM897 218h1v1h-1zM1160 218h2v1h-2zM896 219h1v1h-1zM1162 219h2v1h-2zM894 220h2v1h-2zM1164 220h2v1h-2zM892 221h2v1h-2zM1166 221h2v1h-2zM890 222h2v1h-2zM1168 222h2v1h-2zM888 223h2v1h-2zM1170 223h1v1h-1zM886 224h2v1h-2zM1171 224h2v1h-2zM883 225h3v1h-3zM1173 225h2v1h-2zM881 226h2v1h-2zM1175 226h2v1h-2zM877 227h4v1h-4zM1177 227h4v1h-4zM873 228h4v1h-4zM1181 228h6v1h-6zM870 229h3v1h-3zM1187 229h5v1h-5zM867 230h3v1h-3zM1192 230h2v1h-2zM865 231h2v1h-2zM1194 231h1v1h-1zM863 232h2v1h-2zM1195 232h2v1h-2zM861 233h2v1h-2zM1197 233h2v1h-2zM859 234h2v1h-2zM1199 234h1v1h-1zM858 235h1v1h-1zM1200 235h1v1h-1zM856 236h2v1h-2zM1201 236h1v1h-1zM854 237h2v1h-2zM1202 237h1v1h-1zM852 238h2v1h-2zM1203 238h2v1h-2zM850 239h2v1h-2zM1205 239h1v1h-1zM848 240h2v1h-2zM1206 240h1v1h-1zM846 241h2v1h-2zM1207 241h1v1h-1zM844 242h2v1h-2zM1208 242h1v1h-1zM842 243h2v1h-2zM1209 243h2v1h-2zM840 244h2v1h-2zM1211 244h1v1h-1zM838 245h2v1h-2zM1212 245h1v1h-1zM836 246h2v1h-2zM1213 246h2v1h-2zM547 247h21v1h-21zM834 247h2v1h-2zM1215 247h1v1h-1zM543 248h4v1h-4zM568 248h2v1h-2zM832 248h2v1h-2zM1216 248h1v1h-1zM541 249h2v1h-2zM570 249h2v1h-2zM830 249h2v1h-2zM1217 249h1v1h-1zM539 250h2v1h-2zM572 250h2v1h-2zM828 250h2v1h-2zM1218 250h1v1h-1zM538 251h1v1h-1zM574 251h2v1h-2zM826 251h2v1h-2zM1219 251h2v1h-2zM536 252h2v1h-2zM576 252h1v1h-1zM824 252h2v1h-2zM1221 252h1v1h-1zM535 253h1v1h-1zM577 253h2v1h-2zM823 253h1v1h-1zM1222 253h1v1h-1zM534 254h1v1h-1zM579 254h1v1h-1zM821 254h2v1h-2zM1223 254h1v1h-1zM533 255h1v1h-1zM580 255h1v1h-1zM820 255h1v1h-1zM1224 255h1v1h-1zM531 256h2v1h-2zM581 256h2v1h-2zM819 256h1v1h-1zM1225 256h1v1h-1zM530 257h1v1h-1zM583 257h1v1h-1zM817 257h2v1h-2zM1226 257h1v1h-1zM529 258h1v1h-1zM584 258h1v1h-1zM816 258h1v1h-1zM1227 258h1v1h-1zM528 259h1v1h-1zM585 259h2v1h-2zM815 259h1v1h-1zM1228 259h1v1h-1zM527 260h1v1h-1zM587 260h1v1h-1zM813 260h2v1h-2zM1229 260h1v1h-1zM1438 260h2v1h-2zM526 261h1v1h-1zM588 261h1v1h-1zM812 261h1v1h-1zM1230 261h1v1h-1zM1436 261h2v1h-2zM525 262h1v1h-1zM589 262h2v1h-2zM811 262h1v1h-1zM1231 262h1v1h-1zM1434 262h2v1h-2zM523 263h2v1h-2zM591 263h1v1h-1zM809 263h2v1h-2zM1232 263h1v1h-1zM1432 263h2v1h-2zM522 264h1v1h-1zM592 264h1v1h-1zM808 264h1v1h-1zM1233 264h1v1h-1zM1431 264h1v1h-1zM521 265h1v1h-1zM593 265h2v1h-2zM807 265h1v1h-1zM1234 265h1v1h-1zM1430 265h1v1h-1zM520 266h1v1h-1zM595 266h1v1h-1zM806 266h1v1h-1zM1235 266h1v2h-1zM1429 266h1v1h-1zM519 267h1v1h-1zM596 267h1v1h-1zM805 267h1v2h-1zM1427 267h2v1h-2zM518 268h1v2h-1zM597 268h2v1h-2zM1236 268h1v1h-1zM1426 268h1v1h-1zM599 269h1v1h-1zM804 269h1v1h-1zM1237 269h1v1h-1zM1425 269h1v1h-1zM517 270h1v1h-1zM600 270h1v1h-1zM803 270h1v1h-1zM1238 270h1v1h-1zM1424 270h1v1h-1zM516 271h1v1h-1zM601 271h1v1h-1zM802 271h1v1h-1zM1239 271h1v1h-1zM1423 271h1v1h-1zM515 272h1v2h-1zM602 272h1v1h-1zM801 272h1v2h-1zM1240 272h1v1h-1zM1422 272h1v1h-1zM603 273h1v2h-1zM1241 273h1v1h-1zM1421 273h1v1h-1zM514 274h1v1h-1zM800 274h1v1h-1zM1242 274h1v1h-1zM1420 274h1v1h-1zM513 275h1v1h-1zM604 275h1v1h-1zM799 275h1v1h-1zM1243 275h1v1h-1zM1419 275h1v1h-1zM512 276h1v2h-1zM605 276h1v1h-1zM798 276h1v1h-1zM1244 276h1v1h-1zM1418 276h1v1h-1zM606 277h1v1h-1zM797 277h1v1h-1zM1245 277h1v1h-1zM1417 277h1v1h-1zM511 278h1v1h-1zM607 278h1v1h-1zM796 278h1v1h-1zM1246 278h1v1h-1zM1416 278h1v1h-1zM510 279h1v2h-1zM608 279h1v1h-1zM795 279h1v2h-1zM1247 279h1v1h-1zM1415 279h1v1h-1zM609 280h1v2h-1zM1248 280h1v1h-1zM1413 280h2v1h-2zM509 281h1v2h-1zM794 281h1v1h-1zM1249 281h1v1h-1zM1411 281h2v1h-2zM610 282h1v1h-1zM793 282h1v1h-1zM1250 282h1v1h-1zM1410 282h1v1h-1zM508 283h1v2h-1zM611 283h1v1h-1zM792 283h1v1h-1zM1251 283h2v1h-2zM1408 283h2v1h-2zM612 284h1v1h-1zM791 284h1v1h-1zM1253 284h1v1h-1zM1406 284h2v1h-2zM507 285h1v1h-1zM613 285h1v2h-1zM790 285h1v1h-1zM1254 285h1v1h-1zM1404 285h2v1h-2zM506 286h1v2h-1zM789 286h1v1h-1zM1255 286h1v1h-1zM1402 286h2v1h-2zM614 287h1v1h-1zM788 287h1v1h-1zM1256 287h1v1h-1zM1400 287h2v1h-2zM505 288h1v2h-1zM615 288h1v1h-1zM787 288h1v2h-1zM1257 288h2v1h-2zM1399 288h1v1h-1zM616 289h1v2h-1zM1259 289h1v1h-1zM1398 289h1v1h-1zM504 290h1v2h-1zM786 290h1v1h-1zM1260 290h1v1h-1zM1397 290h1v1h-1zM617 291h1v1h-1zM785 291h1v1h-1zM1261 291h2v1h-2zM1396 291h1v1h-1zM503 292h1v1h-1zM618 292h1v1h-1zM784 292h1v1h-1zM1263 292h1v1h-1zM1395 292h1v1h-1zM502 293h1v2h-1zM619 293h1v2h-1zM783 293h1v1h-1zM1264 293h2v1h-2zM1394 293h1v1h-1zM782 294h1v1h-1zM1266 294h1v1h-1zM1393 294h1v1h-1zM501 295h1v2h-1zM620 295h1v1h-1zM781 295h1v1h-1zM1267 295h2v1h-2zM1392 295h1v1h-1zM621 296h1v1h-1zM780 296h1v1h-1zM1269 296h2v1h-2zM1317 296h14v1h-14zM1391 296h1v1h-1zM500 297h1v2h-1zM622 297h1v2h-1zM779 297h1v1h-1zM1271 297h2v1h-2zM1313 297h4v1h-4zM1331 297h6v1h-6zM1389 297h2v1h-2zM778 298h1v1h-1zM1273 298h4v1h-4zM1307 298h6v1h-6zM1337 298h4v1h-4zM1388 298h1v1h-1zM499 299h1v1h-1zM623 299h1v1h-1zM777 299h1v1h-1zM1277 299h6v1h-6zM1299 299h8v1h-8zM1341 299h4v1h-4zM1387 299h1v1h-1zM498 300h1v2h-1zM624 300h1v1h-1zM776 300h1v1h-1zM1283 300h16v1h-16zM1345 300h4v1h-4zM1385 300h2v1h-2zM625 301h1v1h-1zM775 301h1v1h-1zM1349 301h3v1h-3zM1384 301h1v1h-1zM497 302h1v2h-1zM626 302h1v1h-1zM774 302h1v1h-1zM1352 302h2v1h-2zM1383 302h1v1h-1zM627 303h1v1h-1zM773 303h1v1h-1zM1354 303h2v1h-2zM1381 303h2v1h-2zM496 304h1v2h-1zM628 304h1v1h-1zM771 304h2v1h-2zM1356 304h2v1h-2zM1379 304h2v1h-2zM629 305h1v1h-1zM770 305h1v1h-1zM1358 305h3v1h-3zM1378 305h1v1h-1zM495 306h1v1h-1zM630 306h1v1h-1zM769 306h1v1h-1zM1361 306h2v1h-2zM1376 306h2v1h-2zM494 307h1v2h-1zM631 307h1v1h-1zM768 307h1v1h-1zM1363 307h3v1h-3zM1371 307h5v1h-5zM632 308h1v1h-1zM767 308h1v1h-1zM1366 308h5v1h-5zM493 309h1v2h-1zM633 309h1v1h-1zM765 309h2v1h-2zM634 310h1v1h-1zM764 310h1v1h-1zM492 311h1v1h-1zM635 311h1v1h-1zM763 311h1v1h-1zM491 312h1v2h-1zM636 312h1v1h-1zM761 312h2v1h-2zM637 313h1v1h-1zM760 313h1v1h-1zM490 314h1v1h-1zM638 314h1v1h-1zM758 314h2v1h-2zM489 315h1v2h-1zM639 315h1v1h-1zM756 315h2v1h-2zM640 316h1v1h-1zM754 316h2v1h-2zM488 317h1v2h-1zM641 317h2v1h-2zM752 317h2v1h-2zM643 318h1v1h-1zM747 318h5v1h-5zM487 319h1v1h-1zM644 319h1v1h-1zM743 319h4v1h-4zM486 320h1v2h-1zM645 320h2v1h-2zM741 320h2v1h-2zM647 321h1v1h-1zM739 321h2v1h-2zM485 322h1v1h-1zM648 322h1v1h-1zM738 322h1v1h-1zM484 323h1v2h-1zM649 323h2v1h-2zM736 323h2v1h-2zM651 324h1v1h-1zM734 324h2v1h-2zM483 325h1v1h-1zM652 325h1v1h-1zM732 325h2v1h-2zM482 326h1v2h-1zM653 326h2v1h-2zM730 326h2v1h-2zM655 327h1v1h-1zM728 327h2v1h-2zM481 328h1v1h-1zM656 328h2v1h-2zM727 328h1v1h-1zM480 329h1v2h-1zM658 329h1v1h-1zM725 329h2v1h-2zM659 330h2v1h-2zM723 330h2v1h-2zM479 331h1v1h-1zM661 331h2v1h-2zM722 331h1v1h-1zM478 332h1v2h-1zM663 332h1v1h-1zM720 332h2v1h-2zM664 333h2v1h-2zM719 333h1v1h-1zM477 334h1v1h-1zM666 334h2v1h-2zM717 334h2v1h-2zM476 335h1v1h-1zM668 335h2v1h-2zM716 335h1v1h-1zM475 336h1v2h-1zM670 336h2v1h-2zM715 336h1v1h-1zM672 337h2v1h-2zM713 337h2v1h-2zM474 338h1v1h-1zM674 338h2v1h-2zM712 338h1v1h-1zM473 339h1v1h-1zM676 339h2v1h-2zM710 339h2v1h-2zM472 340h1v2h-1zM678 340h13v1h-13zM707 340h3v1h-3zM691 341h8v1h-8zM705 341h2v1h-2zM471 342h1v1h-1zM699 342h6v1h-6zM470 343h1v2h-1zM469 345h1v1h-1zM468 346h1v2h-1zM467 348h1v1h-1zM466 349h1v2h-1zM465 351h1v1h-1zM464 352h1v2h-1zM463 354h1v1h-1zM462 355h1v2h-1zM461 357h1v2h-1zM460 359h1v1h-1zM459 360h1v2h-1zM458 362h1v1h-1zM457 363h1v2h-1zM456 365h1v2h-1zM455 367h1v1h-1zM454 368h1v2h-1zM0 369h1v1h-1zM1 370h1v1h-1zM453 370h1v2h-1zM2 371h1v1h-1zM3 372h1v1h-1zM452 372h1v2h-1zM4 373h1v1h-1zM5 374h1v1h-1zM163 374h8v1h-8zM451 374h1v2h-1zM6 375h1v1h-1zM157 375h6v1h-6zM171 375h6v1h-6zM7 376h1v1h-1zM153 376h4v1h-4zM177 376h2v1h-2zM450 376h1v2h-1zM8 377h1v1h-1zM150 377h3v1h-3zM179 377h3v1h-3zM9 378h1v1h-1zM148 378h2v1h-2zM182 378h2v1h-2zM449 378h1v2h-1zM10 379h1v1h-1zM146 379h2v1h-2zM184 379h2v1h-2zM11 380h1v2h-1zM144 380h2v1h-2zM186 380h2v1h-2zM448 380h1v2h-1zM142 381h2v1h-2zM188 381h2v1h-2zM12 382h1v1h-1zM140 382h2v1h-2zM190 382h2v1h-2zM447 382h1v2h-1zM13 383h1v1h-1zM138 383h2v1h-2zM192 383h2v1h-2zM14 384h1v1h-1zM136 384h2v1h-2zM194 384h2v1h-2zM446 384h1v2h-1zM15 385h1v1h-1zM135 385h1v1h-1zM196 385h2v1h-2zM16 386h1v1h-1zM133 386h2v1h-2zM198 386h2v1h-2zM445 386h1v3h-1zM17 387h1v1h-1zM132 387h1v1h-1zM200 387h1v1h-1zM18 388h1v1h-1zM131 388h1v1h-1zM201 388h1v1h-1zM19 389h1v2h-1zM129 389h2v1h-2zM202 389h1v1h-1zM444 389h1v2h-1zM128 390h1v1h-1zM203 390h1v1h-1zM20 391h1v1h-1zM127 391h1v1h-1zM204 391h1v1h-1zM443 391h1v3h-1zM21 392h1v1h-1zM125 392h2v1h-2zM205 392h1v1h-1zM22 393h1v1h-1zM124 393h1v1h-1zM206 393h1v1h-1zM23 394h1v1h-1zM123 394h1v1h-1zM207 394h1v1h-1zM442 394h1v2h-1zM24 395h1v1h-1zM121 395h2v1h-2zM208 395h1v1h-1zM25 396h1v1h-1zM120 396h1v1h-1zM209 396h1v1h-1zM441 396h1v3h-1zM26 397h1v1h-1zM118 397h2v1h-2zM210 397h1v1h-1zM27 398h1v2h-1zM115 398h3v1h-3zM211 398h2v1h-2zM113 399h2v1h-2zM213 399h1v1h-1zM440 399h1v2h-1zM28 400h1v1h-1zM110 400h3v1h-3zM214 400h1v1h-1zM29 401h1v1h-1zM108 401h2v1h-2zM215 401h1v1h-1zM439 401h1v2h-1zM30 402h1v1h-1zM106 402h2v1h-2zM216 402h1v1h-1zM31 403h1v1h-1zM104 403h2v1h-2zM217 403h1v2h-1zM438 403h1v2h-1zM32 404h1v1h-1zM102 404h2v1h-2zM33 405h2v1h-2zM99 405h3v1h-3zM218 405h1v1h-1zM437 405h1v1h-1zM35 406h1v1h-1zM97 406h2v1h-2zM219 406h1v1h-1zM436 406h1v1h-1zM36 407h1v1h-1zM93 407h4v1h-4zM220 407h1v1h-1zM435 407h1v2h-1zM37 408h2v1h-2zM89 408h4v1h-4zM221 408h1v2h-1zM39 409h1v1h-1zM83 409h6v1h-6zM434 409h1v1h-1zM40 410h1v1h-1zM77 410h6v1h-6zM222 410h1v1h-1zM433 410h1v1h-1zM41 411h1v1h-1zM73 411h4v1h-4zM223 411h1v1h-1zM432 411h1v2h-1zM42 412h1v1h-1zM67 412h6v1h-6zM224 412h1v1h-1zM43 413h2v1h-2zM63 413h4v1h-4zM225 413h1v2h-1zM431 413h1v1h-1zM45 414h1v1h-1zM61 414h2v1h-2zM430 414h1v2h-1zM46 415h1v1h-1zM60 415h1v1h-1zM226 415h1v1h-1zM47 416h2v1h-2zM59 416h1v1h-1zM227 416h1v1h-1zM429 416h1v2h-1zM49 417h2v1h-2zM57 417h2v1h-2zM228 417h1v1h-1zM51 418h3v1h-3zM56 418h1v1h-1zM229 418h1v2h-1zM428 418h1v1h-1zM54 419h2v1h-2zM427 419h1v2h-1zM230 420h1v1h-1zM231 421h1v1h-1zM426 421h1v1h-1zM232 422h1v1h-1zM425 422h1v2h-1zM233 423h1v1h-1zM234 424h1v1h-1zM424 424h1v2h-1zM235 425h1v1h-1zM236 426h1v1h-1zM423 426h1v2h-1zM237 427h1v1h-1zM238 428h1v1h-1zM422 428h1v2h-1zM239 429h1v1h-1zM240 430h1v1h-1zM421 430h1v2h-1zM241 431h1v1h-1zM242 432h1v1h-1zM420 432h1v2h-1zM243 433h2v1h-2zM245 434h1v1h-1zM419 434h1v2h-1zM246 435h1v1h-1zM247 436h1v1h-1zM418 436h1v2h-1zM248 437h1v1h-1zM249 438h1v1h-1zM417 438h1v2h-1zM250 439h1v1h-1zM251 440h1v1h-1zM416 440h1v2h-1zM252 441h1v1h-1zM253 442h1v1h-1zM415 442h1v1h-1zM254 443h1v1h-1zM414 443h1v2h-1zM255 444h1v1h-1zM256 445h1v1h-1zM413 445h1v1h-1zM257 446h1v1h-1zM412 446h1v2h-1zM258 447h1v1h-1zM259 448h1v1h-1zM411 448h1v1h-1zM260 449h1v1h-1zM410 449h1v2h-1zM261 450h1v1h-1zM262 451h1v1h-1zM409 451h1v1h-1zM263 452h1v1h-1zM408 452h1v2h-1zM264 453h1v1h-1zM265 454h2v1h-2zM407 454h1v1h-1zM267 455h1v1h-1zM406 455h1v1h-1zM268 456h1v1h-1zM405 456h1v1h-1zM269 457h2v1h-2zM404 457h1v1h-1zM271 458h1v1h-1zM403 458h1v2h-1zM272 459h2v1h-2zM274 460h1v1h-1zM402 460h1v1h-1zM275 461h2v1h-2zM401 461h1v1h-1zM277 462h2v1h-2zM400 462h1v1h-1zM279 463h1v1h-1zM399 463h1v1h-1zM280 464h1v1h-1zM398 464h1v1h-1zM281 465h2v1h-2zM397 465h1v1h-1zM283 466h1v1h-1zM396 466h1v1h-1zM284 467h1v1h-1zM395 467h1v2h-1zM285 468h2v1h-2zM287 469h1v1h-1zM394 469h1v1h-1zM288 470h2v1h-2zM393 470h1v1h-1zM290 471h2v1h-2zM392 471h1v1h-1zM292 472h2v1h-2zM391 472h1v1h-1zM294 473h2v1h-2zM390 473h1v1h-1zM296 474h2v1h-2zM389 474h1v1h-1zM298 475h1v1h-1zM388 475h1v1h-1zM299 476h2v1h-2zM387 476h1v1h-1zM301 477h2v1h-2zM386 477h1v1h-1zM303 478h2v1h-2zM385 478h1v1h-1zM305 479h4v1h-4zM384 479h1v1h-1zM309 480h3v1h-3zM383 480h1v1h-1zM312 481h2v1h-2zM382 481h1v1h-1zM314 482h2v1h-2zM381 482h1v1h-1zM316 483h2v1h-2zM379 483h2v1h-2zM318 484h2v1h-2zM378 484h1v1h-1zM320 485h2v1h-2zM377 485h1v1h-1zM322 486h2v1h-2zM376 486h1v1h-1zM324 487h2v1h-2zM374 487h2v1h-2zM326 488h3v1h-3zM372 488h2v1h-2zM329 489h2v1h-2zM370 489h2v1h-2zM331 490h3v1h-3zM368 490h2v1h-2zM334 491h5v1h-5zM366 491h2v1h-2zM339 492h6v1h-6zM364 492h2v1h-2zM345 493h2v1h-2zM362 493h2v1h-2zM347 494h3v1h-3zM360 494h2v1h-2zM350 495h10v1h-10z"/>
<path shape-rendering="crispEdges" fill="#3cb371" d="M1107 252h6v1h-6zM1102 253h5v1h-5zM1113 253h2v1h-2zM1100 254h2v1h-2zM1115 254h3v1h-3zM1098 255h2v1h-2zM1118 255h2v1h-2zM1096 256h2v1h-2zM1120 256h1v1h-1zM1091 257h5v1h-5zM1121 257h2v1h-2zM949 258h4v1h-4zM1087 258h4v1h-4zM1123 258h1v1h-1zM945 259h4v1h-4zM953 259h4v1h-4zM1085 259h2v1h-2zM1124 259h1v1h-1zM942 260h3v1h-3zM957 260h14v1h-14zM1084 260h1v1h-1zM1125 260h2v1h-2zM940 261h2v1h-2zM971 261h6v1h-6zM1083 261h1v1h-1zM1127 261h1v1h-1zM938 262h2v1h-2zM977 262h2v1h-2zM1011 262h6v1h-6zM1081 262h2v1h-2zM1128 262h1v2h-1zM936 263h2v1h-2zM979 263h3v1h-3zM1006 263h5v1h-5zM1017 263h4v1h-4zM1080 263h1v1h-1zM935 264h1v1h-1zM982 264h2v1h-2zM1003 264h3v1h-3zM1021 264h3v1h-3zM1077 264h3v1h-3zM1129 264h1v1h-1zM934 265h1v2h-1zM984 265h1v1h-1zM1001 265h2v1h-2zM1024 265h2v1h-2zM1073 265h4v1h-4zM1130 265h1v1h-1zM985 266h2v1h-2zM998 266h3v1h-3zM1026 266h1v1h-1zM1043 266h8v1h-8zM1067 266h6v1h-6zM1131 266h1v2h-1zM933 267h1v2h-1zM987 267h1v1h-1zM996 267h2v1h-2zM1027 267h2v1h-2zM1037 267h6v1h-6zM1051 267h16v1h-16zM988 268h1v1h-1zM994 268h2v1h-2zM1029 268h2v1h-2zM1033 268h4v1h-4zM1132 268h1v1h-1zM932 269h1v2h-1zM989 269h2v1h-2zM992 269h2v1h-2zM1031 269h2v1h-2zM1133 269h1v1h-1zM991 270h1v1h-1zM1134 270h1v2h-1zM931 271h1v1h-1zM930 272h1v2h-1zM1135 272h1v1h-1zM1136 273h1v2h-1zM929 274h1v2h-1zM1137 275h1v2h-1zM928 276h1v2h-1zM1138 277h1v2h-1zM927 278h1v1h-1zM926 279h1v1h-1zM1139 279h1v2h-1zM925 280h1v1h-1zM923 281h2v1h-2zM1140 281h1v2h-1zM922 282h1v1h-1zM921 283h1v1h-1zM1141 283h1v2h-1zM920 284h1v1h-1zM919 285h1v1h-1zM1142 285h1v2h-1zM917 286h2v1h-2zM915 287h2v1h-2zM1143 287h1v2h-1zM914 288h1v1h-1zM912 289h2v1h-2zM1144 289h1v2h-1zM911 290h1v1h-1zM910 291h1v1h-1zM1145 291h1v1h-1zM909 292h1v2h-1zM1146 292h1v1h-1zM883 293h6v1h-6zM1147 293h1v2h-1zM877 294h6v1h-6zM889 294h2v1h-2zM908 294h1v1h-1zM863 295h4v1h-4zM873 295h4v1h-4zM891 295h3v1h-3zM907 295h1v1h-1zM1148 295h1v1h-1zM862 296h1v2h-1zM867 296h6v1h-6zM894 296h2v1h-2zM906 296h1v1h-1zM1149 296h1v1h-1zM896 297h2v1h-2zM905 297h1v2h-1zM1150 297h1v2h-1zM861 298h1v2h-1zM898 298h2v1h-2zM900 299h2v1h-2zM904 299h1v1h-1zM1151 299h1v1h-1zM860 300h1v1h-1zM902 300h2v1h-2zM1152 300h1v2h-1zM859 301h1v2h-1zM1153 302h1v2h-1zM858 303h1v1h-1zM857 304h1v2h-1zM1154 304h1v2h-1zM856 306h1v2h-1zM1155 306h1v2h-1zM854 308h2v1h-2zM1156 308h1v2h-1zM852 309h2v1h-2zM850 310h2v1h-2zM1157 310h1v2h-1zM848 311h2v1h-2zM847 312h1v1h-1zM1158 312h1v2h-1zM846 313h1v1h-1zM845 314h1v1h-1zM1159 314h1v2h-1zM844 315h1v1h-1zM843 316h1v1h-1zM1160 316h1v1h-1zM842 317h1v1h-1zM1161 317h2v1h-2zM841 318h1v1h-1zM1163 318h1v1h-1zM840 319h1v1h-1zM1164 319h1v1h-1zM839 320h1v1h-1zM1165 320h2v1h-2zM837 321h2v1h-2zM1167 321h1v1h-1zM836 322h1v1h-1zM1168 322h2v1h-2zM835 323h1v1h-1zM1170 323h2v1h-2zM833 324h2v1h-2zM1172 324h2v1h-2zM832 325h1v1h-1zM1174 325h2v1h-2zM831 326h1v1h-1zM1176 326h2v1h-2zM829 327h2v1h-2zM1178 327h1v1h-1zM828 328h1v1h-1zM1179 328h2v1h-2zM827 329h1v1h-1zM1181 329h2v1h-2zM825 330h2v1h-2zM1183 330h2v1h-2zM824 331h1v1h-1zM1185 331h4v1h-4zM822 332h2v1h-2zM1189 332h4v1h-4zM820 333h2v1h-2zM1193 333h2v1h-2zM818 334h2v1h-2zM1195 334h3v1h-3zM816 335h2v1h-2zM1198 335h2v1h-2zM815 336h1v1h-1zM1200 336h2v1h-2zM813 337h2v1h-2zM1202 337h2v1h-2zM811 338h2v1h-2zM1204 338h2v1h-2zM810 339h1v1h-1zM1206 339h2v1h-2zM808 340h2v1h-2zM1208 340h2v1h-2zM807 341h1v1h-1zM1210 341h2v1h-2zM551 342h2v1h-2zM806 342h1v1h-1zM1212 342h2v1h-2zM549 343h2v1h-2zM553 343h4v1h-4zM805 343h1v2h-1zM1214 343h3v1h-3zM548 344h1v1h-1zM557 344h11v1h-11zM1217 344h2v1h-2zM547 345h1v1h-1zM568 345h1v2h-1zM804 345h1v1h-1zM1219 345h3v1h-3zM545 346h2v1h-2zM803 346h1v1h-1zM1222 346h5v1h-5zM1245 346h3v1h-3zM544 347h1v1h-1zM569 347h1v1h-1zM802 347h1v1h-1zM1227 347h8v1h-8zM1241 347h4v1h-4zM1248 347h1v1h-1zM543 348h1v2h-1zM570 348h1v2h-1zM801 348h1v2h-1zM1235 348h6v1h-6zM1249 348h1v1h-1zM1250 349h1v1h-1zM542 350h1v2h-1zM571 350h1v1h-1zM800 350h1v1h-1zM1251 350h1v2h-1zM572 351h1v2h-1zM799 351h1v2h-1zM541 352h1v2h-1zM1252 352h1v1h-1zM573 353h1v1h-1zM798 353h1v2h-1zM1253 353h1v1h-1zM540 354h1v2h-1zM574 354h1v2h-1zM1254 354h1v1h-1zM797 355h1v3h-1zM1255 355h1v1h-1zM1331 355h21v1h-21zM539 356h1v2h-1zM575 356h1v1h-1zM1256 356h1v1h-1zM1315 356h16v1h-16zM1352 356h1v1h-1zM576 357h1v2h-1zM1257 357h1v1h-1zM1307 357h8v1h-8zM1353 357h2v1h-2zM538 358h1v2h-1zM796 358h1v2h-1zM1258 358h1v1h-1zM1291 358h16v1h-16zM1355 358h1v1h-1zM577 359h1v1h-1zM1259 359h2v1h-2zM1286 359h5v1h-5zM1356 359h1v1h-1zM537 360h1v2h-1zM578 360h1v1h-1zM795 360h1v3h-1zM1261 360h1v1h-1zM1283 360h3v1h-3zM1357 360h2v1h-2zM579 361h1v2h-1zM1262 361h1v1h-1zM1281 361h2v1h-2zM1359 361h1v1h-1zM536 362h1v2h-1zM1263 362h4v1h-4zM1275 362h6v1h-6zM1360 362h2v1h-2zM580 363h1v1h-1zM794 363h1v2h-1zM1267 363h8v1h-8zM1362 363h1v1h-1zM535 364h1v3h-1zM581 364h1v1h-1zM1363 364h2v1h-2zM582 365h1v2h-1zM793 365h1v3h-1zM1365 365h2v1h-2zM1367 366h2v1h-2zM534 367h1v4h-1zM583 367h1v1h-1zM1369 367h4v1h-4zM584 368h1v1h-1zM792 368h1v2h-1zM1373 368h3v1h-3zM1431 368h2v1h-2zM585 369h1v2h-1zM1376 369h1v2h-1zM1429 369h2v1h-2zM1433 369h2v1h-2zM791 370h1v3h-1zM1427 370h2v1h-2zM1435 370h3v1h-3zM533 371h1v3h-1zM586 371h1v1h-1zM1377 371h1v2h-1zM1426 371h1v1h-1zM1438 371h2v1h-2zM587 372h1v1h-1zM1424 372h2v1h-2zM588 373h1v1h-1zM790 373h1v2h-1zM1378 373h1v2h-1zM1423 373h1v1h-1zM532 374h1v3h-1zM589 374h1v2h-1zM1422 374h1v1h-1zM789 375h1v2h-1zM1379 375h1v2h-1zM1421 375h1v1h-1zM590 376h1v1h-1zM1420 376h1v1h-1zM531 377h1v4h-1zM591 377h1v1h-1zM788 377h1v2h-1zM1380 377h1v2h-1zM1419 377h1v1h-1zM592 378h1v2h-1zM1418 378h1v1h-1zM787 379h1v2h-1zM1381 379h1v2h-1zM1417 379h1v1h-1zM593 380h1v1h-1zM1416 380h1v1h-1zM530 381h1v3h-1zM594 381h1v1h-1zM786 381h1v2h-1zM1382 381h1v2h-1zM1415 381h1v1h-1zM595 382h1v2h-1zM1414 382h1v2h-1zM785 383h1v2h-1zM1383 383h1v1h-1zM529 384h1v3h-1zM596 384h1v1h-1zM1384 384h1v2h-1zM1413 384h1v2h-1zM597 385h1v1h-1zM784 385h1v2h-1zM598 386h1v2h-1zM1385 386h1v2h-1zM1412 386h1v2h-1zM528 387h1v4h-1zM783 387h1v1h-1zM599 388h1v2h-1zM782 388h1v2h-1zM1386 388h1v1h-1zM1411 388h1v1h-1zM1387 389h1v2h-1zM1410 389h1v2h-1zM600 390h1v3h-1zM781 390h1v2h-1zM527 391h1v3h-1zM1388 391h1v1h-1zM1409 391h1v2h-1zM780 392h1v2h-1zM1389 392h1v2h-1zM601 393h1v2h-1zM1408 393h1v2h-1zM526 394h1v3h-1zM779 394h1v1h-1zM1390 394h1v2h-1zM602 395h1v3h-1zM778 395h1v2h-1zM1406 395h2v1h-2zM1391 396h2v1h-2zM1404 396h2v1h-2zM525 397h1v4h-1zM777 397h1v2h-1zM1393 397h2v1h-2zM1402 397h2v1h-2zM603 398h1v3h-1zM1395 398h3v1h-3zM1400 398h2v1h-2zM776 399h1v2h-1zM1398 399h2v1h-2zM524 401h1v3h-1zM604 401h1v3h-1zM775 401h1v2h-1zM774 403h1v2h-1zM523 404h1v3h-1zM605 404h1v2h-1zM773 405h1v2h-1zM606 406h1v3h-1zM522 407h1v3h-1zM772 407h1v2h-1zM607 409h1v2h-1zM771 409h1v2h-1zM521 410h1v4h-1zM608 411h1v1h-1zM770 411h1v2h-1zM609 412h1v1h-1zM610 413h1v1h-1zM769 413h1v2h-1zM520 414h1v3h-1zM611 414h1v2h-1zM768 415h1v2h-1zM612 416h1v1h-1zM519 417h1v3h-1zM613 417h1v1h-1zM767 417h1v1h-1zM614 418h1v1h-1zM766 418h1v2h-1zM615 419h1v1h-1zM518 420h1v4h-1zM616 420h1v2h-1zM765 420h1v2h-1zM617 422h1v1h-1zM699 422h5v1h-5zM764 422h1v2h-1zM618 423h1v2h-1zM691 423h8v1h-8zM704 423h1v1h-1zM517 424h1v4h-1zM679 424h12v1h-12zM705 424h2v1h-2zM763 424h1v1h-1zM619 425h1v1h-1zM677 425h2v1h-2zM707 425h1v1h-1zM762 425h1v2h-1zM620 426h1v2h-1zM675 426h2v1h-2zM708 426h1v1h-1zM674 427h1v1h-1zM709 427h2v1h-2zM761 427h1v2h-1zM516 428h1v4h-1zM621 428h1v1h-1zM672 428h2v1h-2zM711 428h1v1h-1zM622 429h1v2h-1zM671 429h1v1h-1zM712 429h2v1h-2zM760 429h1v2h-1zM670 430h1v2h-1zM714 430h2v1h-2zM623 431h1v1h-1zM716 431h2v1h-2zM758 431h2v1h-2zM515 432h1v3h-1zM624 432h1v1h-1zM669 432h1v1h-1zM718 432h3v1h-3zM756 432h2v1h-2zM625 433h1v2h-1zM668 433h1v1h-1zM721 433h4v1h-4zM754 433h2v1h-2zM667 434h1v2h-1zM725 434h4v1h-4zM752 434h2v1h-2zM166 435h2v1h-2zM514 435h1v4h-1zM626 435h1v1h-1zM729 435h4v1h-4zM749 435h3v1h-3zM163 436h3v1h-3zM168 436h2v1h-2zM627 436h1v1h-1zM666 436h1v1h-1zM733 436h6v1h-6zM745 436h4v1h-4zM161 437h2v1h-2zM170 437h1v1h-1zM628 437h1v1h-1zM665 437h1v1h-1zM739 437h6v1h-6zM159 438h2v1h-2zM171 438h2v1h-2zM629 438h1v2h-1zM664 438h1v2h-1zM158 439h1v1h-1zM173 439h2v1h-2zM513 439h1v4h-1zM157 440h1v1h-1zM175 440h1v1h-1zM630 440h1v1h-1zM663 440h1v1h-1zM156 441h1v1h-1zM176 441h1v2h-1zM631 441h1v1h-1zM662 441h1v1h-1zM155 442h1v1h-1zM632 442h1v2h-1zM661 442h1v1h-1zM154 443h1v1h-1zM177 443h1v2h-1zM512 443h1v4h-1zM660 443h1v1h-1zM153 444h1v1h-1zM633 444h1v1h-1zM659 444h1v1h-1zM152 445h1v1h-1zM178 445h1v2h-1zM634 445h1v1h-1zM658 445h1v1h-1zM151 446h1v2h-1zM635 446h1v2h-1zM657 446h1v1h-1zM179 447h1v1h-1zM511 447h1v4h-1zM656 447h1v1h-1zM150 448h1v3h-1zM180 448h1v2h-1zM636 448h1v1h-1zM655 448h1v1h-1zM637 449h1v1h-1zM654 449h1v1h-1zM181 450h1v2h-1zM638 450h1v2h-1zM653 450h1v1h-1zM149 451h1v3h-1zM510 451h1v4h-1zM652 451h1v1h-1zM182 452h1v2h-1zM639 452h1v1h-1zM651 452h1v1h-1zM640 453h2v1h-2zM650 453h1v1h-1zM148 454h1v3h-1zM183 454h1v1h-1zM642 454h2v1h-2zM649 454h1v1h-1zM184 455h1v1h-1zM509 455h1v5h-1zM644 455h2v1h-2zM648 455h1v1h-1zM185 456h1v2h-1zM646 456h2v1h-2zM147 457h1v3h-1zM186 458h1v1h-1zM187 459h1v1h-1zM146 460h1v3h-1zM188 460h1v1h-1zM508 460h1v5h-1zM189 461h1v2h-1zM145 463h1v3h-1zM190 463h1v1h-1zM191 464h1v1h-1zM192 465h1v2h-1zM507 465h1v4h-1zM144 466h1v3h-1zM193 467h1v2h-1zM143 469h1v2h-1zM194 469h1v1h-1zM506 469h1v5h-1zM195 470h1v2h-1zM142 471h1v2h-1zM196 472h1v1h-1zM141 473h1v2h-1zM197 473h1v2h-1zM505 474h1v5h-1zM140 475h1v1h-1zM198 475h1v2h-1zM139 476h1v2h-1zM199 477h1v2h-1zM138 478h1v1h-1zM137 479h1v2h-1zM200 479h1v2h-1zM504 479h1v4h-1zM136 481h1v2h-1zM201 481h1v2h-1zM135 483h1v2h-1zM202 483h1v3h-1zM503 483h1v4h-1zM134 485h1v2h-1zM203 486h1v2h-1zM133 487h1v2h-1zM502 487h1v4h-1zM204 488h1v3h-1zM132 489h1v3h-1zM205 491h1v2h-1zM501 491h1v4h-1zM131 492h1v2h-1zM206 493h1v2h-1zM130 494h1v3h-1zM207 495h1v2h-1zM500 495h1v4h-1zM129 497h1v2h-1zM208 497h1v2h-1zM128 499h1v2h-1zM209 499h1v2h-1zM499 499h1v3h-1zM127 501h1v3h-1zM210 501h1v1h-1zM211 502h1v2h-1zM498 502h1v4h-1zM126 504h1v2h-1zM212 504h1v1h-1zM213 505h1v2h-1zM125 506h1v2h-1zM497 506h1v4h-1zM214 507h1v2h-1zM124 508h1v3h-1zM215 509h1v1h-1zM216 510h1v1h-1zM496 510h1v4h-1zM123 511h1v2h-1zM217 511h1v1h-1zM218 512h1v1h-1zM122 513h1v3h-1zM219 513h1v2h-1zM495 514h1v3h-1zM220 515h1v1h-1zM121 516h1v2h-1zM221 516h1v1h-1zM222 517h1v1h-1zM494 517h1v2h-1zM120 518h1v2h-1zM223 518h1v1h-1zM224 519h1v2h-1zM493 519h1v3h-1zM119 520h1v2h-1zM225 521h1v1h-1zM117 522h2v1h-2zM226 522h1v1h-1zM492 522h1v2h-1zM54 523h2v1h-2zM115 523h2v1h-2zM227 523h1v2h-1zM52 524h2v1h-2zM56 524h1v1h-1zM114 524h1v1h-1zM491 524h1v3h-1zM50 525h2v1h-2zM57 525h1v1h-1zM112 525h2v1h-2zM228 525h1v1h-1zM48 526h2v1h-2zM58 526h1v1h-1zM110 526h2v1h-2zM229 526h1v1h-1zM47 527h1v2h-1zM59 527h1v1h-1zM108 527h2v1h-2zM230 527h1v2h-1zM490 527h1v2h-1zM60 528h1v1h-1zM106 528h2v1h-2zM46 529h1v3h-1zM61 529h1v1h-1zM104 529h2v1h-2zM231 529h1v1h-1zM489 529h1v3h-1zM62 530h1v1h-1zM103 530h1v1h-1zM232 530h1v2h-1zM351 530h9v1h-9zM63 531h2v1h-2zM101 531h2v1h-2zM349 531h2v1h-2zM360 531h2v1h-2zM45 532h1v2h-1zM65 532h2v1h-2zM99 532h2v1h-2zM233 532h1v2h-1zM348 532h1v1h-1zM362 532h2v1h-2zM488 532h1v2h-1zM67 533h3v1h-3zM98 533h1v1h-1zM347 533h1v1h-1zM364 533h2v1h-2zM44 534h1v3h-1zM70 534h5v1h-5zM96 534h2v1h-2zM234 534h1v1h-1zM345 534h2v1h-2zM366 534h2v1h-2zM487 534h1v3h-1zM75 535h21v1h-21zM235 535h1v2h-1zM344 535h1v1h-1zM368 535h1v1h-1zM335 536h9v1h-9zM369 536h1v1h-1zM43 537h1v3h-1zM236 537h1v1h-1zM334 537h1v1h-1zM370 537h1v1h-1zM486 537h1v2h-1zM237 538h1v2h-1zM333 538h1v1h-1zM371 538h1v1h-1zM331 539h2v1h-2zM372 539h1v1h-1zM485 539h1v2h-1zM42 540h1v3h-1zM238 540h1v2h-1zM330 540h1v1h-1zM373 540h1v1h-1zM329 541h1v1h-1zM374 541h1v1h-1zM484 541h1v3h-1zM239 542h1v1h-1zM328 542h1v1h-1zM375 542h1v1h-1zM41 543h1v2h-1zM240 543h1v1h-1zM327 543h1v1h-1zM376 543h1v2h-1zM241 544h1v1h-1zM326 544h1v1h-1zM483 544h1v2h-1zM40 545h1v3h-1zM242 545h1v1h-1zM325 545h1v1h-1zM377 545h1v1h-1zM243 546h1v1h-1zM323 546h2v1h-2zM378 546h1v2h-1zM482 546h1v3h-1zM244 547h1v1h-1zM322 547h1v1h-1zM39 548h1v3h-1zM245 548h1v1h-1zM321 548h1v1h-1zM379 548h1v1h-1zM246 549h1v1h-1zM320 549h1v1h-1zM380 549h1v2h-1zM481 549h1v2h-1zM247 550h2v1h-2zM319 550h1v1h-1zM38 551h1v2h-1zM249 551h2v1h-2zM317 551h2v1h-2zM381 551h1v1h-1zM480 551h1v2h-1zM251 552h3v1h-3zM316 552h1v1h-1zM382 552h1v2h-1zM37 553h1v2h-1zM254 553h2v1h-2zM315 553h1v1h-1zM479 553h1v3h-1zM256 554h2v1h-2zM313 554h2v1h-2zM383 554h1v1h-1zM36 555h1v2h-1zM258 555h2v1h-2zM312 555h1v1h-1zM384 555h1v1h-1zM260 556h2v1h-2zM310 556h2v1h-2zM385 556h1v1h-1zM478 556h1v2h-1zM35 557h1v2h-1zM262 557h3v1h-3zM293 557h4v1h-4zM308 557h2v1h-2zM386 557h1v1h-1zM265 558h4v1h-4zM289 558h4v1h-4zM297 558h2v1h-2zM306 558h2v1h-2zM387 558h1v2h-1zM477 558h1v2h-1zM34 559h1v2h-1zM269 559h20v1h-20zM299 559h3v1h-3zM304 559h2v1h-2zM302 560h2v1h-2zM388 560h1v1h-1zM476 560h1v2h-1zM33 561h1v2h-1zM389 561h1v1h-1zM390 562h1v1h-1zM475 562h1v2h-1zM32 563h1v2h-1zM391 563h2v1h-2zM393 564h4v1h-4zM474 564h1v2h-1zM31 565h1v1h-1zM397 565h4v1h-4zM30 566h1v1h-1zM401 566h2v1h-2zM473 566h1v2h-1zM29 567h1v1h-1zM403 567h3v1h-3zM27 568h2v1h-2zM406 568h2v1h-2zM472 568h1v2h-1zM26 569h1v1h-1zM408 569h1v2h-1zM25 570h1v1h-1zM471 570h1v1h-1zM24 571h1v1h-1zM409 571h1v2h-1zM470 571h1v2h-1zM22 572h2v1h-2zM19 573h3v1h-3zM410 573h1v2h-1zM469 573h1v2h-1zM17 574h2v1h-2zM14 575h3v1h-3zM411 575h1v1h-1zM468 575h1v1h-1z"/>
<g clip-path="url(#cm)" shape-rendering="crispEdges">
<path d="M-1 443v64M7 408v23M15 377v43M23 371v27M31 374v40M39 352v37M47 355v16M55 354v14M63 280v109M71 289v45M79 308v69M87 337v51M95 353v26M103 353v16M111 327v55M119 366v66M127 370v36M135 371v59M143 402v29M151 394v38M159 387v78M167 371v37M175 397v38M183 409v67M191 433v40M199 427v67M207 469v67M215 487v32M223 462v43M231 492v48M239 501v34M247 503v27M255 478v42M263 472v49M271 501v63M279 469v63M287 477v53M295 451v58M303 459v55M311 487v41M319 440v63M327 456v52M335 476v28M343 478v20M351 486v23M359 471v23M367 427v46M375 400v42M383 345v87M391 336v61M399 328v57M407 327v36M415 246v94M423 206v59M431 203v59M439 219v26M447 205v26M455 169v65M463 168v42M471 171v98M479 231v38M487 223v25M495 184v67M503 194v29M511 196v33M519 198v58M527 235v69M535 265v28M543 256v40M551 278v33M559 282v79M567 309v59M575 323v33M583 329v29M591 325v29M599 325v38M607 355v57M615 390v51M623 393v24M631 385v22M639 384v27M647 360v34M655 317v49M663 294v44M671 300v26M679 292v19M687 281v43M695 268v46M703 263v55M711 213v118M719 238v24M727 233v19M735 228v38M743 223v33M751 245v61M759 265v41M767 258v32M775 271v11M783 216v64M791 192v37M799 203v46M807 182v55M815 178v29M823 168v35M831 184v49M839 194v31M847 205v26M855 198v25M863 199v25M871 182v33M879 177v28M887 164v33M895 133v61M903 51v107M911 92v69M919 90v39M927 80v40M935 82v33M943 94v40M951 107v46M959 113v175M967 184v32M975 184v56M983 192v46M991 217v72M999 174v96M1007 157v68M1015 171v29M1023 191v45M1031 213v32M1039 164v69M1047 134v56M1055 157v30M1063 173v16M1071 158v22M1079 164v16M1087 149v34M1095 150v73M1103 190v37M1111 204v28M1119 194v76M1127 218v46M1135 227v73M1143 263v55M1151 276v37M1159 293v34M1167 241v87M1175 249v32M1183 237v35M1191 259v37M1199 262v29M1207 291v23M1215 268v45M1223 284v21M1231 296v30M1239 299v25M1247 316v19M1255 317v63M1263 326v50M1271 329v31M1279 273v68M1287 247v40M1295 270v43M1303 270v19M1311 267v26M1319 274v18M1327 260v32M1335 254v44M1343 266v38M1351 285v27M1359 269v83M1367 338v58M1375 323v44M1383 179v181M1391 166v77M1399 166v33M1407 178v79M1415 227v29M1423 199v59M1431 178v25M1439 154v43" stroke="#000" stroke-width="1" fill="none" transform="translate(0.5,0)"/>
<path d="M-3 443h5v64h-5zM5 413h5v18h-5zM13 392h5v21h-5zM21 393h5v4h-5zM29 383h5v14h-5zM37 359h5v25h-5zM45 358h5v7h-5zM53 364h5v3h-5zM61 294h5v74h-5zM69 294h5v18h-5zM77 313h5v33h-5zM85 345h5v26h-5zM93 358h5v13h-5zM101 357h5v12h-5zM109 369h5v2h-5zM117 369h5v26h-5zM125 379h5v15h-5zM133 379h5v28h-5zM141 408h5v18h-5zM149 406h5v21h-5zM157 399h5v7h-5zM165 398h5v2h-5zM173 398h5v21h-5zM181 417h5v55h-5zM189 437h5v35h-5zM197 437h5v33h-5zM205 470h5v44h-5zM213 493h5v22h-5zM221 493h5v4h-5zM229 496h5v32h-5zM237 527h5v3h-5zM245 506h5v24h-5zM253 493h5v15h-5zM261 493h5v21h-5zM269 501h5v13h-5zM277 479h5v22h-5zM285 479h5v28h-5zM293 465h5v41h-5zM301 466h5v43h-5zM309 488h5v21h-5zM317 467h5v22h-5zM325 467h5v10h-5zM333 477h5v5h-5zM341 482h5v6h-5zM349 487h5v5h-5zM357 471h5v22h-5zM365 433h5v39h-5zM373 411h5v23h-5zM381 374h5v38h-5zM389 340h5v34h-5zM397 339h5v13h-5zM405 332h5v20h-5zM413 254h5v79h-5zM421 211h5v44h-5zM429 211h5v24h-5zM437 227h5v9h-5zM445 226h5v3h-5zM453 174h5v53h-5zM461 173h5v3h-5zM469 175h5v82h-5zM477 251h5v6h-5zM485 234h5v10h-5zM493 194h5v51h-5zM501 194h5v19h-5zM509 198h5v16h-5zM517 198h5v52h-5zM525 249h5v43h-5zM533 268h5v24h-5zM541 264h5v29h-5zM549 293h5v8h-5zM557 300h5v58h-5zM565 327h5v31h-5zM573 326h5v18h-5zM581 337h5v8h-5zM589 327h5v11h-5zM597 326h5v32h-5zM605 356h5v52h-5zM613 401h5v8h-5zM621 400h5v2h-5zM629 400h5v2h-5zM637 393h5v9h-5zM645 365h5v29h-5zM653 319h5v47h-5zM661 309h5v12h-5zM669 301h5v9h-5zM677 297h5v5h-5zM685 295h5v11h-5zM693 272h5v35h-5zM701 271h5v43h-5zM709 241h5v74h-5zM717 242h5v2h-5zM725 242h5v9h-5zM733 236h5v13h-5zM741 237h5v8h-5zM749 245h5v55h-5zM757 280h5v20h-5zM765 277h5v4h-5zM773 277h5v2h-5zM781 228h5v50h-5zM789 204h5v25h-5zM797 203h5v32h-5zM805 184h5v52h-5zM813 184h5v10h-5zM821 194h5v2h-5zM829 193h5v26h-5zM837 217h5v2h-5zM845 212h5v7h-5zM853 208h5v5h-5zM861 205h5v4h-5zM869 183h5v22h-5zM877 183h5v11h-5zM885 184h5v10h-5zM893 144h5v41h-5zM901 121h5v24h-5zM909 120h5v9h-5zM917 102h5v27h-5zM925 88h5v15h-5zM933 88h5v22h-5zM941 109h5v3h-5zM949 111h5v23h-5zM957 133h5v114h-5zM965 185h5v24h-5zM973 186h5v15h-5zM981 200h5v18h-5zM989 217h5v42h-5zM997 186h5v73h-5zM1005 172h5v15h-5zM1013 172h5v23h-5zM1021 194h5v21h-5zM1029 214h5v15h-5zM1037 173h5v56h-5zM1045 158h5v16h-5zM1053 158h5v20h-5zM1061 176h5v2h-5zM1069 166h5v10h-5zM1077 166h5v11h-5zM1085 169h5v8h-5zM1093 169h5v45h-5zM1101 212h5v8h-5zM1109 219h5v2h-5zM1117 220h5v39h-5zM1125 237h5v24h-5zM1133 237h5v43h-5zM1141 278h5v19h-5zM1149 296h5v17h-5zM1157 312h5v3h-5zM1165 266h5v49h-5zM1173 267h5v2h-5zM1181 261h5v8h-5zM1189 262h5v2h-5zM1197 263h5v14h-5zM1205 294h5v3h-5zM1213 298h5v2h-5zM1221 299h5v5h-5zM1229 302h5v12h-5zM1237 313h5v6h-5zM1245 318h5v14h-5zM1253 330h5v31h-5zM1261 359h5v3h-5zM1269 336h5v24h-5zM1277 275h5v61h-5zM1285 276h5v5h-5zM1293 278h5v3h-5zM1301 273h5v6h-5zM1309 272h5v15h-5zM1317 278h5v9h-5zM1325 273h5v5h-5zM1333 274h5v11h-5zM1341 284h5v13h-5zM1349 295h5v14h-5zM1357 309h5v36h-5zM1365 344h5v14h-5zM1373 327h5v31h-5zM1381 182h5v147h-5zM1389 166h5v19h-5zM1397 167h5v25h-5zM1405 191h5v56h-5zM1413 239h5v9h-5zM1421 200h5v40h-5zM1429 188h5v14h-5zM1437 184h5v5h-5z" fill="#000"/>
<path d="M-2 444h3v62h-3zM6 414h3v16h-3zM14 393h3v19h-3zM30 384h3v12h-3zM38 360h3v23h-3zM62 295h3v72h-3zM94 359h3v11h-3zM126 380h3v13h-3zM150 407h3v19h-3zM158 400h3v5h-3zM190 438h3v33h-3zM214 494h3v20h-3zM246 507h3v22h-3zM254 494h3v13h-3zM270 502h3v11h-3zM278 480h3v20h-3zM294 466h3v39h-3zM310 489h3v19h-3zM318 468h3v20h-3zM358 472h3v20h-3zM366 434h3v37h-3zM374 412h3v21h-3zM382 375h3v36h-3zM390 341h3v32h-3zM406 333h3v18h-3zM414 255h3v77h-3zM422 212h3v42h-3zM438 228h3v7h-3zM446 227h3v1h-3zM454 175h3v51h-3zM478 252h3v4h-3zM494 195h3v49h-3zM510 199h3v14h-3zM534 269h3v22h-3zM566 328h3v29h-3zM582 338h3v6h-3zM590 328h3v9h-3zM614 402h3v6h-3zM638 394h3v7h-3zM646 366h3v27h-3zM654 320h3v45h-3zM662 310h3v10h-3zM670 302h3v7h-3zM678 298h3v3h-3zM694 273h3v33h-3zM710 242h3v72h-3zM734 237h3v11h-3zM758 281h3v18h-3zM766 278h3v2h-3zM782 229h3v48h-3zM790 205h3v23h-3zM806 185h3v50h-3zM846 213h3v5h-3zM854 209h3v3h-3zM862 206h3v2h-3zM870 184h3v20h-3zM886 185h3v8h-3zM894 145h3v39h-3zM902 122h3v22h-3zM918 103h3v25h-3zM926 89h3v13h-3zM966 186h3v22h-3zM998 187h3v71h-3zM1006 173h3v13h-3zM1038 174h3v54h-3zM1046 159h3v14h-3zM1070 167h3v8h-3zM1086 170h3v6h-3zM1126 238h3v22h-3zM1166 267h3v47h-3zM1182 262h3v6h-3zM1262 360h3v1h-3zM1270 337h3v22h-3zM1278 276h3v59h-3zM1294 279h3v1h-3zM1302 274h3v4h-3zM1318 279h3v7h-3zM1326 274h3v3h-3zM1374 328h3v29h-3zM1382 183h3v145h-3zM1390 167h3v17h-3zM1414 240h3v7h-3zM1422 201h3v38h-3zM1430 189h3v12h-3zM1438 185h3v3h-3z" fill="#fff"/>
</g>
<g shape-rendering="crispEdges">
<path d="M-1 660v75M7 660v67M15 660v59M23 660v52M31 660v45M39 660v37M47 660v31M55 660v26M63 660v16M71 660v9M79 660v7M87 660v6M95 660v5M103 660v5M111 660v5M119 660v7M127 660v7M135 660v10M143 660v13M151 660v14M159 660v14M167 660v13M175 660v15M183 660v20M191 660v21M199 660v24M207 660v30M215 660v32M223 660v34M231 660v38M239 660v41M247 660v40M255 660v38M263 660v38M271 660v37M279 660v33M287 660v32M295 660v28M303 660v28M311 660v26M319 660v22M327 660v20M335 660v18M343 660v17M351 660v16M359 660v14M367 660v9M375 660v3M383 656v5M391 647v14M399 641v20M407 635v26M415 624v37M423 613v48M431 607v54M439 602v59M447 598v63M455 592v69M463 587v74M471 592v69M479 596v65M487 598v63M495 598v63M503 599v62M511 601v60M519 606v55M527 614v47M535 618v43M543 625v36M551 631v30M559 641v20M567 647v14M575 652v9M583 657v4M591 659v2M599 660v3M607 660v10M615 660v16M623 660v20M631 660v22M639 660v24M647 660v22M655 660v17M663 660v12M671 660v7M679 660v3M687 660v1M695 657v4M703 656v5M711 650v11M719 646v15M727 642v19M735 640v21M743 637v24M751 641v20M759 642v19M767 644v17M775 646v15M783 641v20M791 637v24M799 637v24M807 634v27M815 631v30M823 630v31M831 631v30M839 632v29M847 634v27M855 633v28M863 634v27M871 634v27M879 634v27M887 634v27M895 631v30M903 626v35M911 624v37M919 620v41M927 618v43M935 616v45M943 618v43M951 619v42M959 631v30M967 636v25M975 641v20M983 647v14M991 655v6M999 655v6M1007 655v6M1015 656v5M1023 658v3M1031 660v1M1039 660v1M1047 656v5M1055 656v5M1063 656v5M1071 655v6M1079 655v6M1087 653v8M1095 657v4M1103 660v1M1111 660v2M1119 660v7M1127 660v10M1135 660v15M1143 660v20M1151 660v25M1159 660v29M1167 660v28M1175 660v27M1183 660v25M1191 660v24M1199 660v24M1207 660v25M1215 660v26M1223 660v26M1231 660v27M1239 660v28M1247 660v29M1255 660v32M1263 660v34M1271 660v34M1279 660v28M1287 660v23M1295 660v19M1303 660v16M1311 660v14M1319 660v11M1327 660v9M1335 660v8M1343 660v8M1351 660v9M1359 660v11M1367 660v16M1375 660v16M1383 660v1M1391 655v6M1399 649v12M1407 648v13M1415 648v13M1423 645v16M1431 641v20M1439 638v23" stroke="#c0c0c0" stroke-width="1" fill="none" transform="translate(0.5,0)"/>
</g>
<path shape-rendering="crispEdges" fill="#ff0000" d="M499 595h1v1h-1zM503 595h3v1h-3zM509 595h3v1h-3zM515 595h3v1h-3zM493 596h1v1h-1zM497 596h2v1h-2zM521 596h2v1h-2zM491 597h2v1h-2zM523 597h1v1h-1zM485 598h3v1h-3zM527 598h1v1h-1zM481 599h1v1h-1zM528 599h2v1h-2zM479 600h2v1h-2zM533 601h1v1h-1zM474 602h2v1h-2zM534 602h2v1h-2zM473 603h1v1h-1zM539 604h1v1h-1zM469 605h1v1h-1zM540 605h2v1h-2zM468 606h1v1h-1zM467 607h1v1h-1zM545 607h2v1h-2zM547 608h1v1h-1zM551 609h1v1h-1zM463 610h1v1h-1zM552 610h2v1h-2zM462 611h1v1h-1zM461 612h1v1h-1zM557 612h1v1h-1zM558 613h2v1h-2zM457 615h1v1h-1zM456 616h1v1h-1zM455 617h1v1h-1zM563 617h2v1h-2zM565 618h1v1h-1zM451 620h1v1h-1zM450 621h1v1h-1zM569 621h1v1h-1zM449 622h1v1h-1zM570 622h1v1h-1zM952 622h3v1h-3zM958 622h3v1h-3zM571 623h1v1h-1zM946 623h3v1h-3zM964 623h3v1h-3zM970 623h1v1h-1zM941 624h2v1h-2zM971 624h2v1h-2zM976 624h1v1h-1zM575 625h1v1h-1zM940 625h1v1h-1zM977 625h2v1h-2zM445 626h1v1h-1zM576 626h1v1h-1zM934 626h3v1h-3zM443 627h2v1h-2zM577 627h1v1h-1zM929 627h2v1h-2zM982 627h2v1h-2zM923 628h2v1h-2zM928 628h1v1h-1zM984 628h1v1h-1zM917 629h2v1h-2zM922 629h1v1h-1zM581 630h2v1h-2zM916 630h1v1h-1zM988 630h2v1h-2zM439 631h1v1h-1zM583 631h1v1h-1zM910 631h3v1h-3zM990 631h1v1h-1zM438 632h1v1h-1zM862 632h3v1h-3zM868 632h3v1h-3zM874 632h3v1h-3zM880 632h3v1h-3zM886 632h3v1h-3zM892 632h3v1h-3zM898 632h3v1h-3zM904 632h3v1h-3zM437 633h1v1h-1zM851 633h2v1h-2zM856 633h3v1h-3zM994 633h2v1h-2zM844 634h3v1h-3zM850 634h1v1h-1zM996 634h1v1h-1zM587 635h2v1h-2zM838 635h3v1h-3zM589 636h1v1h-1zM827 636h2v1h-2zM832 636h3v1h-3zM1000 636h2v1h-2zM433 637h1v1h-1zM821 637h2v1h-2zM826 637h1v1h-1zM1002 637h1v1h-1zM432 638h1v1h-1zM820 638h1v1h-1zM431 639h1v1h-1zM593 639h1v1h-1zM814 639h3v1h-3zM1006 639h2v1h-2zM594 640h2v1h-2zM796 640h3v1h-3zM802 640h3v1h-3zM808 640h3v1h-3zM1008 640h1v1h-1zM790 641h3v1h-3zM427 642h1v1h-1zM599 642h1v1h-1zM779 642h2v1h-2zM784 642h3v1h-3zM1012 642h2v1h-2zM426 643h1v1h-1zM600 643h2v1h-2zM772 643h3v1h-3zM778 643h1v1h-1zM1014 643h1v1h-1zM425 644h1v1h-1zM766 644h3v1h-3zM760 645h3v1h-3zM1018 645h1v1h-1zM605 646h2v1h-2zM754 646h3v1h-3zM1019 646h2v1h-2zM607 647h1v1h-1zM750 647h1v1h-1zM421 648h1v1h-1zM748 648h2v1h-2zM1024 648h1v1h-1zM419 649h2v1h-2zM1025 649h2v1h-2zM742 650h3v1h-3zM611 651h1v2h-1zM1030 651h3v1h-3zM1438 651h2v1h-2zM737 652h2v1h-2zM1036 652h1v1h-1zM415 653h1v1h-1zM612 653h1v1h-1zM736 653h1v1h-1zM1037 653h2v1h-2zM1434 653h1v1h-1zM413 654h2v1h-2zM732 654h1v1h-1zM1042 654h1v1h-1zM1432 654h2v1h-2zM730 655h2v1h-2zM1043 655h2v1h-2zM616 656h1v1h-1zM1048 656h3v1h-3zM1054 656h3v1h-3zM1060 656h3v1h-3zM1066 656h3v1h-3zM1072 656h3v1h-3zM1078 656h3v1h-3zM1084 656h3v1h-3zM1090 656h3v1h-3zM1096 656h3v1h-3zM1102 656h3v1h-3zM1108 656h3v1h-3zM1427 656h2v1h-2zM409 657h1v1h-1zM617 657h2v1h-2zM726 657h1v1h-1zM1114 657h3v1h-3zM1426 657h1v1h-1zM408 658h1v1h-1zM724 658h2v1h-2zM1120 658h3v1h-3zM1422 658h1v1h-1zM407 659h1v1h-1zM622 659h2v1h-2zM1126 659h3v1h-3zM1420 659h2v1h-2zM624 660h1v1h-1zM720 660h1v1h-1zM1132 660h3v1h-3zM402 661h2v1h-2zM718 661h2v1h-2zM1138 661h1v1h-1zM1414 661h3v1h-3zM401 662h1v1h-1zM1139 662h2v1h-2zM628 663h1v1h-1zM713 663h2v1h-2zM1409 663h2v1h-2zM397 664h1v1h-1zM629 664h2v1h-2zM712 664h1v1h-1zM1144 664h2v1h-2zM1408 664h1v1h-1zM396 665h1v1h-1zM1146 665h1v1h-1zM1402 665h3v1h-3zM395 666h1v1h-1zM708 666h1v1h-1zM1397 666h2v1h-2zM131 667h3v1h-3zM137 667h3v1h-3zM143 667h3v1h-3zM634 667h2v1h-2zM707 667h1v1h-1zM1150 667h1v1h-1zM1396 667h1v1h-1zM125 668h3v1h-3zM149 668h3v1h-3zM636 668h1v1h-1zM706 668h1v1h-1zM1151 668h1v1h-1zM1390 668h3v1h-3zM121 669h1v1h-1zM155 669h3v1h-3zM161 669h2v1h-2zM390 669h2v1h-2zM640 669h1v1h-1zM1152 669h1v1h-1zM1384 669h3v1h-3zM119 670h2v1h-2zM163 670h1v1h-1zM167 670h3v1h-3zM389 670h1v1h-1zM641 670h2v1h-2zM701 670h2v1h-2zM1378 670h3v1h-3zM113 671h3v1h-3zM173 671h3v1h-3zM700 671h1v1h-1zM1156 671h2v1h-2zM1366 671h3v1h-3zM1372 671h3v1h-3zM179 672h3v1h-3zM185 672h2v1h-2zM384 672h2v1h-2zM646 672h3v1h-3zM694 672h3v1h-3zM1158 672h1v1h-1zM1355 672h2v1h-2zM1360 672h3v1h-3zM107 673h3v1h-3zM187 673h1v1h-1zM191 673h2v1h-2zM383 673h1v1h-1zM689 673h2v1h-2zM1162 673h3v1h-3zM1349 673h2v1h-2zM1354 673h1v1h-1zM193 674h1v1h-1zM377 674h3v1h-3zM652 674h2v1h-2zM683 674h2v1h-2zM688 674h1v1h-1zM1348 674h1v1h-1zM103 675h1v1h-1zM197 675h3v1h-3zM654 675h1v1h-1zM658 675h1v1h-1zM677 675h2v1h-2zM682 675h1v1h-1zM1168 675h2v1h-2zM1342 675h3v1h-3zM101 676h2v1h-2zM371 676h3v1h-3zM659 676h2v1h-2zM664 676h3v1h-3zM676 676h1v1h-1zM1170 676h1v1h-1zM203 677h3v1h-3zM670 677h3v1h-3zM1337 677h2v1h-2zM366 678h2v1h-2zM1174 678h3v1h-3zM1336 678h1v1h-1zM96 679h2v1h-2zM209 679h3v1h-3zM365 679h1v1h-1zM1331 679h2v1h-2zM95 680h1v1h-1zM215 680h2v1h-2zM361 680h1v1h-1zM1180 680h2v1h-2zM1330 680h1v1h-1zM217 681h1v1h-1zM359 681h2v1h-2zM1182 681h1v1h-1zM1186 681h1v1h-1zM1325 681h2v1h-2zM91 682h1v1h-1zM221 682h3v1h-3zM353 682h3v1h-3zM1187 682h2v1h-2zM1192 682h1v1h-1zM1324 682h1v1h-1zM90 683h1v1h-1zM227 683h2v1h-2zM347 683h3v1h-3zM1193 683h2v1h-2zM1318 683h3v1h-3zM89 684h1v1h-1zM229 684h1v1h-1zM342 684h2v1h-2zM1198 684h3v1h-3zM1313 684h2v1h-2zM233 685h1v1h-1zM341 685h1v1h-1zM1204 685h3v1h-3zM1210 685h3v1h-3zM1216 685h3v1h-3zM1222 685h3v1h-3zM1228 685h3v1h-3zM1234 685h3v1h-3zM1240 685h3v1h-3zM1246 685h3v1h-3zM1307 685h2v1h-2zM1312 685h1v1h-1zM85 686h1v1h-1zM234 686h2v1h-2zM337 686h1v1h-1zM1252 686h3v1h-3zM1301 686h2v1h-2zM1306 686h1v1h-1zM84 687h1v1h-1zM335 687h2v1h-2zM1258 687h3v1h-3zM1300 687h1v1h-1zM83 688h1v1h-1zM239 688h2v1h-2zM329 688h3v1h-3zM1264 688h3v1h-3zM1294 688h3v1h-3zM241 689h1v1h-1zM323 689h3v1h-3zM1270 689h3v1h-3zM1276 689h3v1h-3zM1282 689h3v1h-3zM1288 689h3v1h-3zM245 690h1v1h-1zM318 690h2v1h-2zM79 691h1v1h-1zM246 691h2v1h-2zM317 691h1v1h-1zM78 692h1v1h-1zM251 692h2v1h-2zM313 692h1v1h-1zM77 693h1v1h-1zM253 693h1v1h-1zM311 693h2v1h-2zM257 694h3v1h-3zM305 694h3v1h-3zM263 695h3v1h-3zM299 695h3v1h-3zM73 696h1v1h-1zM269 696h3v1h-3zM293 696h3v1h-3zM72 697h1v1h-1zM275 697h3v1h-3zM281 697h3v1h-3zM287 697h3v1h-3zM71 698h1v1h-1zM67 701h1v1h-1zM66 702h1v1h-1zM65 703h1v1h-1zM61 707h1v1h-1zM59 708h2v1h-2zM55 712h1v1h-1zM53 713h2v1h-2zM49 716h1v1h-1zM48 717h1v1h-1zM47 718h1v1h-1zM43 720h1v1h-1zM42 721h1v1h-1zM41 722h1v1h-1zM36 724h2v1h-2zM35 725h1v1h-1zM30 727h2v1h-2zM29 728h1v1h-1zM25 729h1v1h-1zM0 730h2v1h-2zM19 730h1v1h-1zM23 730h2v1h-2zM5 731h3v1h-3zM11 731h3v1h-3zM17 731h2v1h-2z"/>
<g shape-rendering="crispEdges" stroke="#c0c0c0" stroke-width="1" stroke-dasharray="3 3" fill="none">
<path d="M1 786.5H1650"/>
<path d="M1 837.5H1650"/>
<path d="M1 898.5H1650"/>
</g>
<path shape-rendering="crispEdges" fill="#1e90ff" d="M423 790h1v1h-1zM421 791h2v1h-2zM424 791h1v1h-1zM455 791h9v1h-9zM419 792h2v1h-2zM425 792h1v1h-1zM453 792h2v1h-2zM463 792h1v1h-1zM418 793h1v1h-1zM426 793h1v1h-1zM452 793h1v1h-1zM464 793h1v4h-1zM416 794h2v1h-2zM427 794h1v1h-1zM451 794h1v1h-1zM415 795h1v1h-1zM428 795h1v1h-1zM449 795h2v1h-2zM414 796h1v2h-1zM429 796h1v1h-1zM448 796h1v1h-1zM430 797h1v1h-1zM435 797h13v1h-13zM465 797h1v3h-1zM926 797h2v1h-2zM413 798h1v1h-1zM431 798h4v1h-4zM923 798h3v1h-3zM928 798h1v2h-1zM412 799h1v2h-1zM921 799h2v1h-2zM466 800h1v4h-1zM919 800h2v1h-2zM929 800h1v1h-1zM411 801h1v1h-1zM917 801h2v1h-2zM930 801h1v1h-1zM410 802h1v2h-1zM903 802h2v1h-2zM915 802h2v1h-2zM931 802h1v2h-1zM901 803h2v1h-2zM905 803h2v1h-2zM914 803h1v1h-1zM409 804h1v1h-1zM467 804h1v3h-1zM899 804h2v1h-2zM907 804h3v1h-3zM912 804h2v1h-2zM932 804h1v1h-1zM408 805h1v2h-1zM898 805h1v1h-1zM910 805h2v1h-2zM933 805h1v1h-1zM391 806h1v1h-1zM896 806h2v1h-2zM934 806h1v2h-1zM389 807h2v1h-2zM392 807h2v1h-2zM406 807h2v1h-2zM468 807h1v4h-1zM895 807h1v1h-1zM388 808h1v1h-1zM394 808h1v1h-1zM404 808h2v1h-2zM495 808h1v1h-1zM894 808h1v1h-1zM935 808h4v1h-4zM1389 808h3v1h-3zM387 809h1v1h-1zM395 809h2v1h-2zM402 809h2v1h-2zM494 809h1v1h-1zM496 809h2v1h-2zM893 809h1v2h-1zM939 809h5v1h-5zM1385 809h4v1h-4zM1392 809h1v1h-1zM385 810h2v1h-2zM397 810h2v1h-2zM400 810h2v1h-2zM493 810h1v1h-1zM498 810h1v1h-1zM944 810h1v2h-1zM1383 810h1v3h-1zM1384 810h1v1h-1zM1393 810h1v1h-1zM384 811h1v1h-1zM399 811h1v1h-1zM469 811h1v3h-1zM492 811h1v1h-1zM499 811h2v1h-2zM509 811h3v1h-3zM892 811h1v1h-1zM1394 811h1v1h-1zM383 812h1v1h-1zM491 812h1v1h-1zM501 812h2v1h-2zM505 812h4v1h-4zM512 812h1v2h-1zM891 812h1v1h-1zM945 812h1v1h-1zM1395 812h2v1h-2zM382 813h1v1h-1zM490 813h1v1h-1zM503 813h2v1h-2zM890 813h1v1h-1zM946 813h1v2h-1zM1382 813h1v5h-1zM1397 813h1v1h-1zM381 814h1v1h-1zM470 814h1v4h-1zM489 814h1v1h-1zM513 814h1v2h-1zM791 814h1v1h-1zM807 814h2v1h-2zM889 814h1v2h-1zM1398 814h1v1h-1zM380 815h1v1h-1zM488 815h1v1h-1zM789 815h2v1h-2zM792 815h1v1h-1zM806 815h1v1h-1zM809 815h2v1h-2zM871 815h1v1h-1zM947 815h1v1h-1zM1399 815h1v2h-1zM379 816h1v2h-1zM485 816h3v1h-3zM514 816h1v2h-1zM787 816h2v1h-2zM793 816h1v2h-1zM805 816h1v2h-1zM811 816h3v1h-3zM870 816h1v1h-1zM872 816h2v1h-2zM888 816h1v1h-1zM948 816h1v2h-1zM481 817h4v1h-4zM711 817h4v1h-4zM734 817h3v1h-3zM786 817h1v1h-1zM814 817h10v1h-10zM869 817h1v1h-1zM874 817h1v1h-1zM886 817h2v1h-2zM1400 817h1v2h-1zM378 818h1v1h-1zM471 818h1v2h-1zM475 818h6v1h-6zM515 818h1v1h-1zM711 818h1v1h-1zM715 818h6v1h-6zM731 818h3v1h-3zM737 818h2v1h-2zM784 818h2v1h-2zM794 818h1v1h-1zM804 818h1v1h-1zM824 818h1v1h-1zM867 818h2v1h-2zM875 818h2v1h-2zM883 818h3v1h-3zM949 818h1v1h-1zM1381 818h1v5h-1zM1435 818h5v1h-5zM377 819h1v1h-1zM472 819h3v1h-3zM516 819h1v2h-1zM710 819h1v2h-1zM721 819h4v1h-4zM729 819h2v1h-2zM739 819h3v1h-3zM783 819h1v1h-1zM795 819h1v1h-1zM803 819h1v1h-1zM825 819h1v1h-1zM866 819h1v1h-1zM877 819h2v1h-2zM881 819h2v1h-2zM950 819h1v2h-1zM1401 819h1v2h-1zM1430 819h5v1h-5zM63 820h1v2h-1zM376 820h1v1h-1zM695 820h1v1h-1zM725 820h4v1h-4zM742 820h2v1h-2zM782 820h1v2h-1zM796 820h1v1h-1zM802 820h1v1h-1zM826 820h1v1h-1zM865 820h1v1h-1zM879 820h2v1h-2zM1428 820h2v1h-2zM64 821h1v1h-1zM375 821h1v1h-1zM517 821h1v2h-1zM694 821h1v1h-1zM696 821h1v2h-1zM709 821h1v2h-1zM743 821h1v1h-1zM797 821h1v2h-1zM801 821h1v2h-1zM827 821h1v1h-1zM864 821h1v1h-1zM951 821h1v3h-1zM1402 821h1v2h-1zM1426 821h2v1h-2zM62 822h1v2h-1zM65 822h2v1h-2zM373 822h2v1h-2zM693 822h1v1h-1zM744 822h1v2h-1zM781 822h1v2h-1zM828 822h1v1h-1zM853 822h11v1h-11zM1424 822h2v1h-2zM67 823h1v1h-1zM371 823h2v1h-2zM518 823h1v2h-1zM692 823h1v1h-1zM697 823h1v2h-1zM708 823h1v2h-1zM798 823h1v1h-1zM800 823h1v1h-1zM829 823h1v1h-1zM849 823h4v1h-4zM1380 823h1v5h-1zM1403 823h1v2h-1zM1423 823h1v1h-1zM61 824h1v2h-1zM68 824h1v1h-1zM370 824h1v1h-1zM691 824h1v2h-1zM745 824h1v2h-1zM780 824h1v1h-1zM799 824h1v1h-1zM830 824h1v1h-1zM843 824h6v1h-6zM952 824h1v4h-1zM1422 824h1v1h-1zM69 825h2v1h-2zM368 825h2v1h-2zM519 825h1v1h-1zM698 825h1v2h-1zM707 825h1v2h-1zM779 825h1v2h-1zM831 825h12v1h-12zM1404 825h1v2h-1zM1421 825h1v1h-1zM60 826h1v2h-1zM71 826h1v1h-1zM367 826h1v1h-1zM520 826h1v2h-1zM675 826h6v1h-6zM690 826h1v1h-1zM746 826h1v2h-1zM1419 826h2v1h-2zM72 827h1v1h-1zM366 827h1v2h-1zM669 827h6v1h-6zM681 827h2v1h-2zM689 827h1v1h-1zM699 827h1v1h-1zM706 827h1v2h-1zM778 827h1v1h-1zM1405 827h1v2h-1zM1418 827h1v1h-1zM59 828h1v2h-1zM73 828h1v1h-1zM521 828h1v1h-1zM665 828h4v1h-4zM683 828h3v1h-3zM688 828h1v1h-1zM700 828h1v2h-1zM747 828h1v2h-1zM777 828h1v2h-1zM953 828h1v4h-1zM1379 828h1v6h-1zM1417 828h1v1h-1zM74 829h1v1h-1zM365 829h1v1h-1zM522 829h1v1h-1zM662 829h3v1h-3zM686 829h2v1h-2zM705 829h1v2h-1zM1046 829h2v1h-2zM1406 829h1v2h-1zM1416 829h1v1h-1zM58 830h1v2h-1zM75 830h1v1h-1zM364 830h1v1h-1zM523 830h1v2h-1zM659 830h3v1h-3zM701 830h1v2h-1zM748 830h1v2h-1zM776 830h1v2h-1zM1043 830h3v1h-3zM1048 830h2v1h-2zM1413 830h3v1h-3zM76 831h1v1h-1zM363 831h1v2h-1zM535 831h1v1h-1zM657 831h2v1h-2zM704 831h1v2h-1zM1041 831h2v1h-2zM1050 831h1v1h-1zM1070 831h3v1h-3zM1407 831h1v2h-1zM1409 831h4v1h-4zM57 832h1v2h-1zM77 832h1v1h-1zM524 832h1v1h-1zM533 832h2v1h-2zM536 832h1v1h-1zM655 832h2v1h-2zM702 832h1v2h-1zM749 832h1v2h-1zM759 832h17v1h-17zM954 832h1v4h-1zM1039 832h2v1h-2zM1051 832h2v1h-2zM1067 832h3v1h-3zM1073 832h2v1h-2zM1085 832h3v1h-3zM1408 832h1v1h-1zM78 833h1v1h-1zM362 833h1v1h-1zM525 833h1v1h-1zM531 833h2v1h-2zM537 833h2v1h-2zM654 833h1v2h-1zM703 833h1v2h-1zM757 833h2v1h-2zM1006 833h2v1h-2zM1038 833h1v2h-1zM1053 833h2v1h-2zM1065 833h2v1h-2zM1075 833h3v1h-3zM1081 833h4v1h-4zM1088 833h1v2h-1zM56 834h1v2h-1zM79 834h1v1h-1zM361 834h1v1h-1zM526 834h1v2h-1zM530 834h1v1h-1zM539 834h1v1h-1zM750 834h1v2h-1zM755 834h2v1h-2zM1003 834h3v1h-3zM1008 834h2v1h-2zM1055 834h10v1h-10zM1078 834h3v1h-3zM1301 834h3v1h-3zM1325 834h3v1h-3zM1378 834h1v5h-1zM39 835h2v1h-2zM80 835h1v1h-1zM360 835h1v2h-1zM528 835h2v1h-2zM540 835h1v1h-1zM653 835h1v2h-1zM754 835h1v1h-1zM1001 835h2v1h-2zM1010 835h1v1h-1zM1037 835h1v2h-1zM1089 835h1v1h-1zM1279 835h2v1h-2zM1297 835h4v1h-4zM1304 835h1v1h-1zM1321 835h4v1h-4zM1328 835h1v1h-1zM37 836h2v1h-2zM41 836h4v1h-4zM55 836h1v2h-1zM81 836h2v1h-2zM527 836h1v1h-1zM541 836h2v1h-2zM751 836h3v1h-3zM955 836h1v4h-1zM999 836h2v1h-2zM1011 836h2v1h-2zM1090 836h1v2h-1zM1279 836h1v1h-1zM1281 836h4v1h-4zM1291 836h6v1h-6zM1305 836h2v1h-2zM1318 836h3v1h-3zM1329 836h2v1h-2zM36 837h1v1h-1zM45 837h10v1h-10zM83 837h1v1h-1zM94 837h3v1h-3zM359 837h1v1h-1zM543 837h2v1h-2zM652 837h1v1h-1zM751 837h1v1h-1zM967 837h2v1h-2zM999 837h1v1h-1zM1013 837h2v1h-2zM1036 837h1v1h-1zM1278 837h1v3h-1zM1285 837h6v1h-6zM1307 837h1v1h-1zM1316 837h2v1h-2zM1331 837h1v1h-1zM35 838h1v1h-1zM84 838h1v1h-1zM91 838h3v1h-3zM97 838h2v1h-2zM358 838h1v1h-1zM545 838h4v1h-4zM651 838h1v2h-1zM967 838h1v1h-1zM969 838h2v1h-2zM998 838h1v2h-1zM1015 838h2v1h-2zM1035 838h1v2h-1zM1091 838h1v1h-1zM1308 838h1v1h-1zM1314 838h2v1h-2zM1332 838h1v1h-1zM33 839h2v1h-2zM85 839h2v1h-2zM89 839h2v1h-2zM99 839h3v1h-3zM319 839h2v1h-2zM357 839h1v1h-1zM549 839h3v1h-3zM966 839h1v2h-1zM971 839h3v1h-3zM1017 839h2v1h-2zM1092 839h1v2h-1zM1309 839h2v1h-2zM1312 839h2v1h-2zM1333 839h2v1h-2zM1377 839h1v5h-1zM32 840h1v1h-1zM87 840h2v1h-2zM102 840h10v1h-10zM295 840h1v1h-1zM317 840h2v1h-2zM321 840h4v1h-4zM356 840h1v1h-1zM552 840h1v2h-1zM650 840h1v1h-1zM956 840h1v4h-1zM974 840h2v1h-2zM997 840h1v2h-1zM1019 840h3v1h-3zM1034 840h1v1h-1zM1277 840h1v3h-1zM1311 840h1v1h-1zM1335 840h1v1h-1zM30 841h2v1h-2zM112 841h1v1h-1zM294 841h1v2h-1zM296 841h1v2h-1zM315 841h2v1h-2zM325 841h4v1h-4zM355 841h1v2h-1zM649 841h1v2h-1zM965 841h1v2h-1zM976 841h2v1h-2zM1022 841h2v1h-2zM1033 841h1v2h-1zM1093 841h1v1h-1zM1336 841h2v1h-2zM27 842h3v1h-3zM113 842h1v1h-1zM127 842h1v1h-1zM314 842h1v1h-1zM329 842h4v1h-4zM553 842h1v1h-1zM978 842h2v1h-2zM996 842h1v2h-1zM1024 842h2v1h-2zM1094 842h1v2h-1zM1338 842h1v1h-1zM25 843h2v1h-2zM114 843h1v1h-1zM125 843h2v1h-2zM128 843h1v1h-1zM293 843h1v2h-1zM297 843h1v1h-1zM312 843h2v1h-2zM333 843h6v1h-6zM354 843h1v1h-1zM554 843h1v2h-1zM567 843h1v1h-1zM589 843h3v1h-3zM648 843h1v2h-1zM964 843h1v2h-1zM980 843h2v1h-2zM1026 843h2v1h-2zM1032 843h1v2h-1zM1276 843h1v3h-1zM1339 843h2v1h-2zM14 844h11v1h-11zM115 844h2v1h-2zM123 844h2v1h-2zM129 844h1v1h-1zM298 844h1v1h-1zM311 844h1v1h-1zM339 844h6v1h-6zM353 844h1v1h-1zM566 844h1v1h-1zM568 844h2v1h-2zM585 844h4v1h-4zM592 844h2v1h-2zM957 844h1v4h-1zM982 844h2v1h-2zM995 844h1v2h-1zM1028 844h2v1h-2zM1095 844h2v1h-2zM1341 844h2v1h-2zM1376 844h1v5h-1zM12 845h2v1h-2zM117 845h1v1h-1zM122 845h1v1h-1zM130 845h1v1h-1zM157 845h11v1h-11zM292 845h1v1h-1zM299 845h1v2h-1zM310 845h1v1h-1zM345 845h4v1h-4zM352 845h1v1h-1zM555 845h1v1h-1zM565 845h1v1h-1zM570 845h2v1h-2zM581 845h4v1h-4zM594 845h1v1h-1zM647 845h1v1h-1zM963 845h1v2h-1zM984 845h1v1h-1zM1030 845h2v1h-2zM1097 845h4v1h-4zM1343 845h1v1h-1zM10 846h2v1h-2zM118 846h1v1h-1zM120 846h2v1h-2zM131 846h2v1h-2zM153 846h4v1h-4zM168 846h2v1h-2zM279 846h1v1h-1zM291 846h1v2h-1zM309 846h1v1h-1zM349 846h3v1h-3zM556 846h1v2h-1zM564 846h1v1h-1zM572 846h2v1h-2zM577 846h4v1h-4zM595 846h2v1h-2zM646 846h1v1h-1zM985 846h1v1h-1zM994 846h1v2h-1zM1101 846h11v1h-11zM1182 846h5v1h-5zM1275 846h1v3h-1zM1344 846h2v1h-2zM8 847h2v1h-2zM119 847h1v1h-1zM133 847h1v1h-1zM151 847h2v1h-2zM170 847h2v1h-2zM278 847h1v1h-1zM280 847h1v1h-1zM300 847h1v1h-1zM307 847h2v1h-2zM563 847h1v1h-1zM574 847h3v1h-3zM597 847h2v1h-2zM645 847h1v2h-1zM962 847h1v2h-1zM986 847h1v1h-1zM1112 847h1v1h-1zM1179 847h3v1h-3zM1187 847h5v1h-5zM1346 847h2v1h-2zM7 848h1v1h-1zM134 848h1v1h-1zM150 848h1v1h-1zM172 848h2v1h-2zM277 848h1v1h-1zM281 848h1v1h-1zM290 848h1v1h-1zM301 848h1v1h-1zM306 848h1v1h-1zM557 848h1v1h-1zM562 848h1v1h-1zM599 848h1v1h-1zM958 848h1v4h-1zM987 848h1v2h-1zM993 848h1v2h-1zM1113 848h1v2h-1zM1167 848h4v1h-4zM1177 848h2v1h-2zM1192 848h2v1h-2zM1348 848h2v1h-2zM6 849h1v1h-1zM135 849h1v1h-1zM149 849h1v1h-1zM174 849h2v1h-2zM276 849h1v1h-1zM282 849h1v1h-1zM289 849h1v2h-1zM302 849h1v2h-1zM305 849h1v1h-1zM558 849h1v2h-1zM561 849h1v1h-1zM600 849h1v2h-1zM644 849h1v1h-1zM961 849h1v2h-1zM1127 849h1v1h-1zM1167 849h1v1h-1zM1171 849h6v1h-6zM1194 849h2v1h-2zM1274 849h1v3h-1zM1350 849h2v1h-2zM1375 849h1v3h-1zM5 850h1v1h-1zM136 850h2v1h-2zM147 850h2v1h-2zM176 850h1v2h-1zM275 850h1v1h-1zM283 850h2v1h-2zM304 850h1v1h-1zM560 850h1v1h-1zM643 850h1v1h-1zM988 850h1v1h-1zM992 850h1v2h-1zM1114 850h1v1h-1zM1126 850h1v1h-1zM1128 850h1v1h-1zM1166 850h1v2h-1zM1196 850h2v1h-2zM1352 850h1v2h-1zM4 851h1v1h-1zM138 851h1v1h-1zM146 851h1v1h-1zM191 851h1v1h-1zM274 851h1v1h-1zM285 851h1v1h-1zM288 851h1v2h-1zM303 851h1v1h-1zM559 851h1v1h-1zM601 851h1v1h-1zM642 851h1v1h-1zM960 851h1v2h-1zM989 851h1v1h-1zM1115 851h1v1h-1zM1125 851h1v1h-1zM1129 851h1v1h-1zM1198 851h2v1h-2zM3 852h1v1h-1zM139 852h2v1h-2zM145 852h1v1h-1zM177 852h1v2h-1zM190 852h1v2h-1zM192 852h1v1h-1zM273 852h1v1h-1zM286 852h1v1h-1zM602 852h1v1h-1zM641 852h1v2h-1zM959 852h1v3h-1zM990 852h2v1h-2zM1116 852h1v1h-1zM1123 852h2v1h-2zM1130 852h1v1h-1zM1165 852h1v2h-1zM1200 852h2v1h-2zM1273 852h1v3h-1zM1353 852h1v2h-1zM1374 852h1v2h-1zM2 853h1v1h-1zM141 853h2v1h-2zM144 853h1v1h-1zM193 853h1v1h-1zM254 853h2v1h-2zM272 853h1v1h-1zM287 853h1v1h-1zM603 853h1v2h-1zM991 853h1v1h-1zM1117 853h1v2h-1zM1122 853h1v1h-1zM1131 853h1v1h-1zM1202 853h1v1h-1zM1 854h1v1h-1zM143 854h1v1h-1zM178 854h1v2h-1zM189 854h1v1h-1zM194 854h1v1h-1zM252 854h2v1h-2zM256 854h2v1h-2zM270 854h2v1h-2zM640 854h1v1h-1zM1121 854h1v1h-1zM1132 854h1v1h-1zM1164 854h1v2h-1zM1203 854h2v1h-2zM1354 854h1v1h-1zM1373 854h1v2h-1zM0 855h1v1h-1zM188 855h1v2h-1zM195 855h2v1h-2zM250 855h2v1h-2zM258 855h1v1h-1zM268 855h2v1h-2zM604 855h1v1h-1zM637 855h3v1h-3zM1118 855h1v1h-1zM1120 855h1v1h-1zM1133 855h1v1h-1zM1205 855h2v1h-2zM1272 855h1v3h-1zM1355 855h1v2h-1zM179 856h1v1h-1zM197 856h1v1h-1zM248 856h2v1h-2zM259 856h2v1h-2zM266 856h2v1h-2zM605 856h1v1h-1zM633 856h4v1h-4zM1119 856h1v1h-1zM1134 856h1v1h-1zM1163 856h1v2h-1zM1207 856h4v1h-4zM1372 856h1v2h-1zM180 857h1v2h-1zM187 857h1v1h-1zM198 857h1v1h-1zM247 857h1v1h-1zM261 857h2v1h-2zM264 857h2v1h-2zM606 857h1v2h-1zM613 857h20v1h-20zM1135 857h1v1h-1zM1211 857h8v1h-8zM1356 857h1v1h-1zM186 858h1v2h-1zM199 858h1v1h-1zM246 858h1v1h-1zM263 858h1v1h-1zM609 858h4v1h-4zM1136 858h2v1h-2zM1162 858h1v2h-1zM1219 858h6v1h-6zM1271 858h1v2h-1zM1357 858h1v2h-1zM1371 858h1v1h-1zM181 859h1v2h-1zM200 859h1v1h-1zM245 859h1v1h-1zM607 859h2v1h-2zM1138 859h1v1h-1zM1225 859h2v1h-2zM1370 859h1v2h-1zM185 860h1v1h-1zM201 860h1v1h-1zM215 860h9v1h-9zM244 860h1v1h-1zM1139 860h2v1h-2zM1161 860h1v2h-1zM1227 860h3v1h-3zM1270 860h1v2h-1zM1358 860h1v2h-1zM182 861h1v2h-1zM184 861h1v2h-1zM202 861h1v1h-1zM213 861h2v1h-2zM224 861h1v1h-1zM243 861h1v2h-1zM1141 861h2v1h-2zM1230 861h5v1h-5zM1369 861h1v2h-1zM203 862h1v1h-1zM212 862h1v1h-1zM225 862h2v1h-2zM1143 862h2v1h-2zM1160 862h1v2h-1zM1235 862h6v1h-6zM1269 862h1v2h-1zM1359 862h2v1h-2zM183 863h1v1h-1zM204 863h1v1h-1zM211 863h1v1h-1zM227 863h1v1h-1zM242 863h1v1h-1zM1145 863h2v1h-2zM1241 863h2v1h-2zM1361 863h2v1h-2zM1368 863h1v2h-1zM205 864h1v1h-1zM209 864h2v1h-2zM228 864h1v1h-1zM241 864h1v1h-1zM1147 864h3v1h-3zM1159 864h1v2h-1zM1243 864h3v1h-3zM1268 864h1v2h-1zM1363 864h3v1h-3zM206 865h1v1h-1zM208 865h1v1h-1zM229 865h2v1h-2zM240 865h1v1h-1zM1150 865h9v1h-9zM1246 865h2v1h-2zM1366 865h2v1h-2zM207 866h1v1h-1zM231 866h9v1h-9zM1248 866h1v1h-1zM1267 866h1v1h-1zM1249 867h1v1h-1zM1266 867h1v2h-1zM1250 868h1v1h-1zM1251 869h1v2h-1zM1265 869h1v2h-1zM1252 871h1v1h-1zM1264 871h1v2h-1zM1253 872h1v1h-1zM1254 873h1v1h-1zM1259 873h5v1h-5zM1255 874h4v1h-4z"/>
<g font-family='"Liberation Sans", sans-serif'>
<g shape-rendering="crispEdges">
<rect x="1651" y="45" width="2" height="1" fill="#000"/>
<rect x="1651" y="78" width="2" height="1" fill="#000"/>
<rect x="1651" y="111" width="2" height="1" fill="#000"/>
<rect x="1651" y="144" width="2" height="1" fill="#000"/>
<rect x="1651" y="177" width="2" height="1" fill="#000"/>
<rect x="1651" y="210" width="2" height="1" fill="#000"/>
<rect x="1651" y="243" width="2" height="1" fill="#000"/>
<rect x="1651" y="276" width="2" height="1" fill="#000"/>
<rect x="1651" y="309" width="2" height="1" fill="#000"/>
<rect x="1651" y="342" width="2" height="1" fill="#000"/>
<rect x="1651" y="375" width="2" height="1" fill="#000"/>
<rect x="1651" y="408" width="2" height="1" fill="#000"/>
<rect x="1651" y="441" width="2" height="1" fill="#000"/>
<rect x="1651" y="474" width="2" height="1" fill="#000"/>
<rect x="1651" y="507" width="2" height="1" fill="#000"/>
<rect x="1651" y="540" width="2" height="1" fill="#000"/>
<rect x="1651" y="573" width="2" height="1" fill="#000"/>
</g>
<text x="1656" y="48.6" font-size="10" fill="#000" stroke="#000" stroke-width="0.2" textLength="33" lengthAdjust="spacingAndGlyphs">116.365</text>
<text x="1656" y="81.6" font-size="10" fill="#000" stroke="#000" stroke-width="0.2" textLength="33" lengthAdjust="spacingAndGlyphs">116.180</text>
<text x="1656" y="114.6" font-size="10" fill="#000" stroke="#000" stroke-width="0.2" textLength="33" lengthAdjust="spacingAndGlyphs">115.995</text>
<text x="1656" y="147.6" font-size="10" fill="#000" stroke="#000" stroke-width="0.2" textLength="33" lengthAdjust="spacingAndGlyphs">115.810</text>
<text x="1656" y="180.6" font-size="10" fill="#000" stroke="#000" stroke-width="0.2" textLength="33" lengthAdjust="spacingAndGlyphs">115.625</text>
<text x="1656" y="213.6" font-size="10" fill="#000" stroke="#000" stroke-width="0.2" textLength="33" lengthAdjust="spacingAndGlyphs">115.440</text>
<text x="1656" y="246.6" font-size="10" fill="#000" stroke="#000" stroke-width="0.2" textLength="33" lengthAdjust="spacingAndGlyphs">115.255</text>
<text x="1656" y="279.6" font-size="10" fill="#000" stroke="#000" stroke-width="0.2" textLength="33" lengthAdjust="spacingAndGlyphs">115.070</text>
<text x="1656" y="312.6" font-size="10" fill="#000" stroke="#000" stroke-width="0.2" textLength="33" lengthAdjust="spacingAndGlyphs">114.885</text>
<text x="1656" y="345.6" font-size="10" fill="#000" stroke="#000" stroke-width="0.2" textLength="33" lengthAdjust="spacingAndGlyphs">114.700</text>
<text x="1656" y="378.6" font-size="10" fill="#000" stroke="#000" stroke-width="0.2" textLength="33" lengthAdjust="spacingAndGlyphs">114.515</text>
<text x="1656" y="411.6" font-size="10" fill="#000" stroke="#000" stroke-width="0.2" textLength="33" lengthAdjust="spacingAndGlyphs">114.330</text>
<text x="1656" y="444.6" font-size="10" fill="#000" stroke="#000" stroke-width="0.2" textLength="33" lengthAdjust="spacingAndGlyphs">114.145</text>
<text x="1656" y="477.6" font-size="10" fill="#000" stroke="#000" stroke-width="0.2" textLength="33" lengthAdjust="spacingAndGlyphs">113.960</text>
<text x="1656" y="510.6" font-size="10" fill="#000" stroke="#000" stroke-width="0.2" textLength="33" lengthAdjust="spacingAndGlyphs">113.775</text>
<text x="1656" y="543.6" font-size="10" fill="#000" stroke="#000" stroke-width="0.2" textLength="33" lengthAdjust="spacingAndGlyphs">113.590</text>
<text x="1656" y="576.6" font-size="10" fill="#000" stroke="#000" stroke-width="0.2" textLength="33" lengthAdjust="spacingAndGlyphs">113.405</text>
<g shape-rendering="crispEdges">
<rect x="1652" y="116" width="41" height="11" fill="#ff0000"/>
<rect x="1652" y="147" width="41" height="11" fill="#ff0000"/>
<rect x="1645.5" y="151.5" width="4" height="4" fill="#fff" stroke="#ff0000" stroke-width="1"/>
<rect x="1652" y="179" width="41" height="11" fill="#000"/>
<rect x="1652" y="196" width="41" height="11" fill="#32cd32"/>
<rect x="1645.5" y="200.5" width="4" height="4" fill="#fff" stroke="#32cd32" stroke-width="1"/>
<rect x="1652" y="225" width="41" height="11" fill="#0000ff"/>
<rect x="1645.5" y="229.5" width="4" height="4" fill="#fff" stroke="#0000ff" stroke-width="1"/>
<rect x="1652" y="258" width="41" height="11" fill="#0000ff"/>
<rect x="1645.5" y="262.5" width="4" height="4" fill="#fff" stroke="#0000ff" stroke-width="1"/>
</g>
<text x="1656" y="125.3" font-size="10" fill="#fff" stroke="#fff" stroke-width="0.2" textLength="33" lengthAdjust="spacingAndGlyphs">115.931</text>
<text x="1656" y="156.3" font-size="10" fill="#fff" stroke="#fff" stroke-width="0.2" textLength="33" lengthAdjust="spacingAndGlyphs">115.758</text>
<text x="1656" y="188.3" font-size="10" fill="#fff" stroke="#fff" stroke-width="0.2" textLength="33" lengthAdjust="spacingAndGlyphs">115.587</text>
<text x="1656" y="205.3" font-size="10" fill="#fff" stroke="#fff" stroke-width="0.2" textLength="33" lengthAdjust="spacingAndGlyphs">115.484</text>
<text x="1656" y="234.3" font-size="10" fill="#fff" stroke="#fff" stroke-width="0.2" textLength="33" lengthAdjust="spacingAndGlyphs">115.321</text>
<text x="1656" y="267.3" font-size="10" fill="#fff" stroke="#fff" stroke-width="0.2" textLength="33" lengthAdjust="spacingAndGlyphs">115.137</text>
<g shape-rendering="crispEdges">
<rect x="1651" y="580" width="1" height="1" fill="#000"/>
<rect x="1651" y="660" width="1" height="1" fill="#000"/>
<rect x="1651" y="747" width="1" height="1" fill="#000"/>
<rect x="1651" y="752" width="1" height="1" fill="#000"/>
<rect x="1651" y="923" width="1" height="1" fill="#000"/>
</g>
<text x="1654" y="589" font-size="10" fill="#000" stroke="#000" stroke-width="0.2" textLength="27.5" lengthAdjust="spacingAndGlyphs">0.4405</text>
<text x="1654" y="664" font-size="10" fill="#000" stroke="#000" stroke-width="0.2" textLength="17.5" lengthAdjust="spacingAndGlyphs">0.00</text>
<text x="1654" y="745" font-size="10" fill="#000" stroke="#000" stroke-width="0.2" textLength="30.5" lengthAdjust="spacingAndGlyphs">-0.4773</text>
<text x="1654" y="761" font-size="10" fill="#000" stroke="#000" stroke-width="0.2" textLength="15" lengthAdjust="spacingAndGlyphs">100</text>
<text x="1653" y="790" font-size="10" fill="#000" stroke="#000" stroke-width="0.2" textLength="10" lengthAdjust="spacingAndGlyphs">80</text>
<text x="1653" y="841" font-size="10" fill="#000" stroke="#000" stroke-width="0.2" textLength="10" lengthAdjust="spacingAndGlyphs">50</text>
<text x="1653" y="902" font-size="10" fill="#000" stroke="#000" stroke-width="0.2" textLength="10" lengthAdjust="spacingAndGlyphs">15</text>
<text x="1654" y="921" font-size="10" fill="#000" stroke="#000" stroke-width="0.2" textLength="5" lengthAdjust="spacingAndGlyphs">0</text>
<text x="6.5" y="35" font-size="10" fill="#000" stroke="#000" stroke-width="0.2" textLength="200.5" lengthAdjust="spacingAndGlyphs">USDJPY-,H4  115.565 115.753 115.514 115.587</text>
<text x="-2" y="591" font-size="10" fill="#000" stroke="#000" stroke-width="0.2" textLength="125" lengthAdjust="spacingAndGlyphs">MACD(12,26,9) 0.1259 0.0508</text>
<text x="-6.5" y="763" font-size="10" fill="#000" stroke="#000" stroke-width="0.2" textLength="69" lengthAdjust="spacingAndGlyphs">RSI(14) 61.0904</text>
<rect x="0" y="33" width="1" height="1" fill="#000" shape-rendering="crispEdges"/>
<g shape-rendering="crispEdges">
<rect x="55" y="925" width="1" height="3" fill="#000"/>
<rect x="119" y="925" width="1" height="3" fill="#000"/>
<rect x="183" y="925" width="1" height="3" fill="#000"/>
<rect x="247" y="925" width="1" height="3" fill="#000"/>
<rect x="311" y="925" width="1" height="3" fill="#000"/>
<rect x="375" y="925" width="1" height="3" fill="#000"/>
<rect x="439" y="925" width="1" height="3" fill="#000"/>
<rect x="503" y="925" width="1" height="3" fill="#000"/>
<rect x="567" y="925" width="1" height="3" fill="#000"/>
<rect x="631" y="925" width="1" height="3" fill="#000"/>
<rect x="695" y="925" width="1" height="3" fill="#000"/>
<rect x="759" y="925" width="1" height="3" fill="#000"/>
<rect x="823" y="925" width="1" height="3" fill="#000"/>
<rect x="887" y="925" width="1" height="3" fill="#000"/>
<rect x="951" y="925" width="1" height="3" fill="#000"/>
<rect x="1015" y="925" width="1" height="3" fill="#000"/>
<rect x="1079" y="925" width="1" height="3" fill="#000"/>
<rect x="1143" y="925" width="1" height="3" fill="#000"/>
<rect x="1207" y="925" width="1" height="3" fill="#000"/>
<rect x="1271" y="925" width="1" height="3" fill="#000"/>
<rect x="1335" y="925" width="1" height="3" fill="#000"/>
<rect x="1399" y="925" width="1" height="3" fill="#000"/>
</g>
<text x="-9.5" y="937" font-size="10" fill="#000" stroke="#000" stroke-width="0.2" textLength="49" lengthAdjust="spacingAndGlyphs">14 Jan 2022</text>
<text x="54.5" y="937" font-size="10" fill="#000" stroke="#000" stroke-width="0.2" textLength="54" lengthAdjust="spacingAndGlyphs">17 Jan 20:00</text>
<text x="118.5" y="937" font-size="10" fill="#000" stroke="#000" stroke-width="0.2" textLength="54" lengthAdjust="spacingAndGlyphs">19 Jan 04:00</text>
<text x="182.5" y="937" font-size="10" fill="#000" stroke="#000" stroke-width="0.2" textLength="54" lengthAdjust="spacingAndGlyphs">20 Jan 12:00</text>
<text x="246.5" y="937" font-size="10" fill="#000" stroke="#000" stroke-width="0.2" textLength="54" lengthAdjust="spacingAndGlyphs">23 Jan 23:00</text>
<text x="310.5" y="937" font-size="10" fill="#000" stroke="#000" stroke-width="0.2" textLength="54" lengthAdjust="spacingAndGlyphs">25 Jan 04:00</text>
<text x="374.5" y="937" font-size="10" fill="#000" stroke="#000" stroke-width="0.2" textLength="54" lengthAdjust="spacingAndGlyphs">26 Jan 12:00</text>
<text x="438.5" y="937" font-size="10" fill="#000" stroke="#000" stroke-width="0.2" textLength="54" lengthAdjust="spacingAndGlyphs">27 Jan 20:00</text>
<text x="502.5" y="937" font-size="10" fill="#000" stroke="#000" stroke-width="0.2" textLength="54" lengthAdjust="spacingAndGlyphs">31 Jan 04:00</text>
<text x="566.5" y="937" font-size="10" fill="#000" stroke="#000" stroke-width="0.2" textLength="49.5" lengthAdjust="spacingAndGlyphs">1 Feb 12:00</text>
<text x="630.5" y="937" font-size="10" fill="#000" stroke="#000" stroke-width="0.2" textLength="49.5" lengthAdjust="spacingAndGlyphs">2 Feb 20:00</text>
<text x="694.5" y="937" font-size="10" fill="#000" stroke="#000" stroke-width="0.2" textLength="49.5" lengthAdjust="spacingAndGlyphs">4 Feb 04:00</text>
<text x="758.5" y="937" font-size="10" fill="#000" stroke="#000" stroke-width="0.2" textLength="49.5" lengthAdjust="spacingAndGlyphs">7 Feb 12:00</text>
<text x="822.5" y="937" font-size="10" fill="#000" stroke="#000" stroke-width="0.2" textLength="49.5" lengthAdjust="spacingAndGlyphs">8 Feb 20:00</text>
<text x="886.5" y="937" font-size="10" fill="#000" stroke="#000" stroke-width="0.2" textLength="54" lengthAdjust="spacingAndGlyphs">10 Feb 04:00</text>
<text x="950.5" y="937" font-size="10" fill="#000" stroke="#000" stroke-width="0.2" textLength="54" lengthAdjust="spacingAndGlyphs">11 Feb 12:00</text>
<text x="1014.5" y="937" font-size="10" fill="#000" stroke="#000" stroke-width="0.2" textLength="54" lengthAdjust="spacingAndGlyphs">14 Feb 20:00</text>
<text x="1078.5" y="937" font-size="10" fill="#000" stroke="#000" stroke-width="0.2" textLength="54" lengthAdjust="spacingAndGlyphs">16 Feb 04:00</text>
<text x="1142.5" y="937" font-size="10" fill="#000" stroke="#000" stroke-width="0.2" textLength="54" lengthAdjust="spacingAndGlyphs">17 Feb 12:00</text>
<text x="1206.5" y="937" font-size="10" fill="#000" stroke="#000" stroke-width="0.2" textLength="54" lengthAdjust="spacingAndGlyphs">20 Feb 23:00</text>
<text x="1270.5" y="937" font-size="10" fill="#000" stroke="#000" stroke-width="0.2" textLength="54" lengthAdjust="spacingAndGlyphs">22 Feb 04:00</text>
<text x="1334.5" y="937" font-size="10" fill="#000" stroke="#000" stroke-width="0.2" textLength="54" lengthAdjust="spacingAndGlyphs">23 Feb 12:00</text>
<text x="1398.5" y="937" font-size="10" fill="#000" stroke="#000" stroke-width="0.2" textLength="54" lengthAdjust="spacingAndGlyphs">24 Feb 20:00</text>
<g id="trade">
<defs><linearGradient id="gBtn" x1="0" y1="0" x2="0" y2="1"><stop offset="0" stop-color="#5c5cff"/><stop offset="1" stop-color="#3434e6"/></linearGradient><linearGradient id="gPrice" x1="0" y1="0" x2="0" y2="1"><stop offset="0" stop-color="#3232e0"/><stop offset="1" stop-color="#0000a8"/></linearGradient><linearGradient id="gSpin" x1="0" y1="0" x2="0" y2="1"><stop offset="0" stop-color="#f2f2f2"/><stop offset="1" stop-color="#cfcfcf"/></linearGradient></defs>
<g shape-rendering="crispEdges">
<rect x="0" y="43" width="213" height="57" fill="#fff"/>
<rect x="0" y="43" width="46" height="25" fill="url(#gBtn)"/>
<rect x="161" y="43" width="52" height="25" fill="url(#gBtn)"/>
<rect x="0" y="67" width="103" height="33" fill="url(#gPrice)"/>
<rect x="105" y="67" width="108" height="33" fill="url(#gPrice)"/>
<rect x="0" y="43" width="46" height="1" fill="#3030d8"/>
<rect x="161" y="43" width="52" height="1" fill="#3030d8"/>
<rect x="45" y="43" width="1" height="24" fill="#1414c4"/>
<rect x="161" y="43" width="1" height="24" fill="#1414c4"/>
<rect x="212" y="43" width="1" height="57" fill="#0a0ab0"/>
<rect x="102" y="67" width="1" height="33" fill="#0606a8"/>
<rect x="105" y="67" width="1" height="33" fill="#2020c8"/>
<rect x="0" y="99" width="103" height="1" fill="#000098"/>
<rect x="105" y="99" width="108" height="1" fill="#000098"/>
<rect x="0" y="66" width="42" height="1" fill="#1010b8"/>
<rect x="165" y="66" width="44" height="1" fill="#1010b8"/>
<rect x="0" y="67" width="42" height="1" fill="#7a7af0"/>
<rect x="165" y="67" width="44" height="1" fill="#7a7af0"/>
<rect x="48" y="43" width="111" height="22" fill="#fff" stroke="#a4a4ac" stroke-width="1" transform="translate(0.5,0.5)"/>
<rect x="50" y="45" width="18" height="18" fill="url(#gSpin)"/>
<rect x="139" y="45" width="18" height="18" fill="url(#gSpin)"/>
<rect x="69" y="44" width="1" height="21" fill="#b4b4bc"/>
<rect x="137" y="44" width="1" height="21" fill="#b4b4bc"/>
</g>
<path d="M55.5 52.5h6l-3 3.5z" fill="#5a6ec8"/>
<path d="M144.5 55.5h6l-3-3.5z" fill="#5a6ec8"/>
<text x="110.5" y="57.8" font-size="12" fill="#000" textLength="23" lengthAdjust="spacingAndGlyphs">1.00</text>
<text x="6.5" y="58.2" font-size="12" fill="#fff" textLength="25.5" lengthAdjust="spacingAndGlyphs">SELL</text>
<text x="174.5" y="58.2" font-size="12" fill="#fff" textLength="23.5" lengthAdjust="spacingAndGlyphs">BUY</text>
<text x="17.8" y="95" font-size="12.8" font-weight="bold" fill="#fff" textLength="20" lengthAdjust="spacingAndGlyphs">115</text>
<text x="127.6" y="95" font-size="12.8" font-weight="bold" fill="#fff" textLength="20" lengthAdjust="spacingAndGlyphs">115</text>
<text x="42.5" y="95" font-size="35" fill="#fff" textLength="33.5" lengthAdjust="spacingAndGlyphs">58</text>
<text x="152.5" y="95" font-size="35" fill="#fff" textLength="34.5" lengthAdjust="spacingAndGlyphs">60</text>
<text x="81.2" y="79.2" font-size="12.5" font-weight="bold" fill="#fff" textLength="6.2" lengthAdjust="spacingAndGlyphs">7</text>
<text x="192.2" y="79.2" font-size="12.5" font-weight="bold" fill="#fff" textLength="6.2" lengthAdjust="spacingAndGlyphs">6</text>
</g>
<g id="annot">
<path d="M1365.4 392.3L1391 181.4" stroke="#ff0000" stroke-width="3" fill="none"/><path d="M1392.2 171.5L1395.3 183L1386.4 181.9z" fill="#ff0000"/>
<path d="M1392.2 173.5L1410.5 257.7" stroke="#ff0000" stroke-width="3" fill="none"/><path d="M1412.6 267.5L1405.9 257.7L1414.7 255.8z" fill="#ff0000"/>
<path d="M1412.6 265.5L1447.5 164.1" stroke="#ff0000" stroke-width="3" fill="none"/><path d="M1450.8 154.6L1451.5 166.5L1443 163.5z" fill="#ff0000"/>
<rect x="1365" y="199" width="135" height="8" fill="#00ff00" shape-rendering="crispEdges"/>
<path d="M1323.8 681L1451.9 639.8" stroke="#ff0000" stroke-width="3" fill="none"/><path d="M1461.4 636.7L1452.3 644.4L1449.6 635.8z" fill="#ff0000"/>
<path d="M1374.7 833.9L1438 815.1" stroke="#ff0000" stroke-width="3" fill="none"/><path d="M1447.6 812.2L1438.3 819.7L1435.8 811z" fill="#ff0000"/>
<rect x="832.5" y="43.5" width="61" height="18" fill="#fff" stroke="#ff0000" stroke-width="1" shape-rendering="crispEdges"/><text x="834.7" y="58.7" font-size="16.3" fill="#ff0000" textLength="57.2" lengthAdjust="spacingAndGlyphs">116.327</text>
<path d="M894 52.5h9.5" stroke="#ff0000" stroke-width="1" shape-rendering="crispEdges"/>
<rect x="392.5" y="159.5" width="61" height="18" fill="#fff" stroke="#ff0000" stroke-width="1" shape-rendering="crispEdges"/><text x="394.7" y="174.7" font-size="16.3" fill="#ff0000" textLength="57.2" lengthAdjust="spacingAndGlyphs">115.675</text>
<path d="M454 168.5h9.5" stroke="#ff0000" stroke-width="1" shape-rendering="crispEdges"/>
<rect x="1368.5" y="144.5" width="61" height="18" fill="#fff" stroke="#ff0000" stroke-width="1" shape-rendering="crispEdges"/><text x="1370.7" y="159.8" font-size="16.3" fill="#ff0000" textLength="57.2" lengthAdjust="spacingAndGlyphs">115.758</text>
<rect x="1430.5" y="151.5" width="3" height="3" fill="#fff" stroke="#ff0000" stroke-width="1" shape-rendering="crispEdges"/>
<rect x="1296.5" y="387.5" width="61" height="18" fill="#fff" stroke="#ff0000" stroke-width="1" shape-rendering="crispEdges"/><text x="1298.7" y="402.7" font-size="16.3" fill="#ff0000" textLength="57.2" lengthAdjust="spacingAndGlyphs">114.398</text>
<path d="M1358 396.5h9.5" stroke="#ff0000" stroke-width="1" shape-rendering="crispEdges"/>
<rect x="1282.5" y="190.5" width="73" height="24" fill="#fff" stroke="#ff0000" stroke-width="1" shape-rendering="crispEdges"/>
<text x="1284.3" y="210.6" font-size="22" fill="#ff0000" stroke="#ff0000" stroke-width="0.6" textLength="70" lengthAdjust="spacingAndGlyphs">115.484</text>
<rect x="1272" y="202" width="7" height="1" fill="#ff0000" shape-rendering="crispEdges"/>
<rect x="1279.5" y="200.5" width="2" height="3" fill="#fff" stroke="#ff0000" stroke-width="1" shape-rendering="crispEdges"/>
</g>
</g>
</svg>
</body>
</html>
